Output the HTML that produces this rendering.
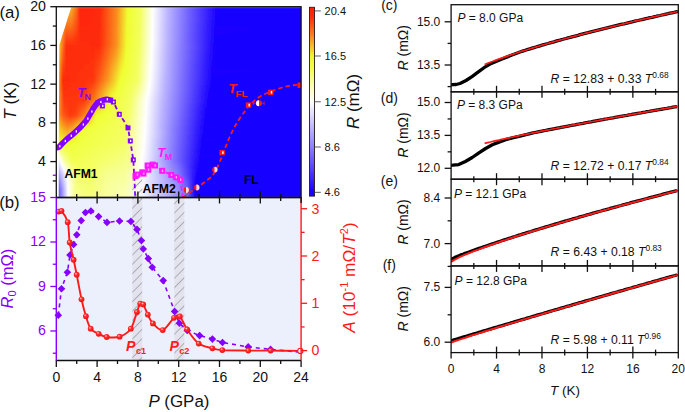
<!DOCTYPE html><html><head><meta charset="utf-8"><style>html,body{margin:0;padding:0;background:#fff;width:685px;height:412px;overflow:hidden}svg{display:block;font-family:"Liberation Sans",sans-serif}</style></head><body>
<svg width="685" height="412" viewBox="0 0 685 412">
<defs>
<linearGradient id="g0" gradientUnits="userSpaceOnUse" x1="56.3" x2="301.1" y1="0" y2="0"><stop offset="0.000" stop-color="#f6b525"/><stop offset="0.061" stop-color="#f7b124"/><stop offset="0.082" stop-color="#fb6d18"/><stop offset="0.094" stop-color="#fe320e"/><stop offset="0.098" stop-color="#ff240b"/><stop offset="0.176" stop-color="#fe290c"/><stop offset="0.180" stop-color="#fe2b0c"/><stop offset="0.249" stop-color="#fa8f1e"/><stop offset="0.290" stop-color="#f0fa31"/><stop offset="0.298" stop-color="#f0ff35"/><stop offset="0.339" stop-color="#f3ff59"/><stop offset="0.343" stop-color="#f3ff5e"/><stop offset="0.392" stop-color="#fefff6"/><stop offset="0.396" stop-color="#fefeff"/><stop offset="0.457" stop-color="#bab3ff"/><stop offset="0.539" stop-color="#7264ff"/><stop offset="0.657" stop-color="#1800ff"/><stop offset="1.000" stop-color="#1800ff"/></linearGradient><linearGradient id="g1" gradientUnits="userSpaceOnUse" x1="56.3" x2="301.1" y1="0" y2="0"><stop offset="0.000" stop-color="#f6b525"/><stop offset="0.012" stop-color="#f6b525"/><stop offset="0.041" stop-color="#f7aa23"/><stop offset="0.061" stop-color="#f7aa23"/><stop offset="0.082" stop-color="#fc6a18"/><stop offset="0.094" stop-color="#fe320e"/><stop offset="0.098" stop-color="#ff250b"/><stop offset="0.176" stop-color="#fe2a0c"/><stop offset="0.180" stop-color="#fe2c0c"/><stop offset="0.249" stop-color="#fa8f1f"/><stop offset="0.290" stop-color="#f0fb31"/><stop offset="0.298" stop-color="#f0ff35"/><stop offset="0.339" stop-color="#f3ff59"/><stop offset="0.343" stop-color="#f4ff5f"/><stop offset="0.392" stop-color="#fefff6"/><stop offset="0.396" stop-color="#fefeff"/><stop offset="0.457" stop-color="#bab3ff"/><stop offset="0.539" stop-color="#7264ff"/><stop offset="0.657" stop-color="#1800ff"/><stop offset="1.000" stop-color="#1800ff"/></linearGradient><linearGradient id="g2" gradientUnits="userSpaceOnUse" x1="56.3" x2="301.1" y1="0" y2="0"><stop offset="0.000" stop-color="#f6b625"/><stop offset="0.012" stop-color="#f6b625"/><stop offset="0.041" stop-color="#f8a322"/><stop offset="0.061" stop-color="#f8a322"/><stop offset="0.082" stop-color="#fc6717"/><stop offset="0.094" stop-color="#fe320e"/><stop offset="0.098" stop-color="#ff250b"/><stop offset="0.176" stop-color="#fe2a0c"/><stop offset="0.180" stop-color="#fe2c0d"/><stop offset="0.249" stop-color="#fa901f"/><stop offset="0.290" stop-color="#f0fb31"/><stop offset="0.294" stop-color="#f0ff32"/><stop offset="0.339" stop-color="#f3ff59"/><stop offset="0.343" stop-color="#f4ff60"/><stop offset="0.392" stop-color="#fefff7"/><stop offset="0.396" stop-color="#fdfdff"/><stop offset="0.457" stop-color="#bab3ff"/><stop offset="0.539" stop-color="#7263ff"/><stop offset="0.657" stop-color="#1800ff"/><stop offset="1.000" stop-color="#1800ff"/></linearGradient><linearGradient id="g3" gradientUnits="userSpaceOnUse" x1="56.3" x2="301.1" y1="0" y2="0"><stop offset="0.000" stop-color="#f6b625"/><stop offset="0.012" stop-color="#f6b625"/><stop offset="0.041" stop-color="#f99c21"/><stop offset="0.061" stop-color="#f99c21"/><stop offset="0.082" stop-color="#fc6317"/><stop offset="0.094" stop-color="#fe310e"/><stop offset="0.098" stop-color="#ff260b"/><stop offset="0.176" stop-color="#fe2a0c"/><stop offset="0.180" stop-color="#fe2c0d"/><stop offset="0.245" stop-color="#fa891d"/><stop offset="0.290" stop-color="#f0fb31"/><stop offset="0.294" stop-color="#f0ff32"/><stop offset="0.339" stop-color="#f3ff5a"/><stop offset="0.343" stop-color="#f4ff60"/><stop offset="0.392" stop-color="#fefff7"/><stop offset="0.396" stop-color="#fdfdff"/><stop offset="0.457" stop-color="#bab3ff"/><stop offset="0.539" stop-color="#7263ff"/><stop offset="0.657" stop-color="#1800ff"/><stop offset="1.000" stop-color="#1800ff"/></linearGradient><linearGradient id="g4" gradientUnits="userSpaceOnUse" x1="56.3" x2="301.1" y1="0" y2="0"><stop offset="0.000" stop-color="#f6b725"/><stop offset="0.012" stop-color="#f6b725"/><stop offset="0.041" stop-color="#f99520"/><stop offset="0.061" stop-color="#f99520"/><stop offset="0.082" stop-color="#fc6016"/><stop offset="0.094" stop-color="#fe310d"/><stop offset="0.098" stop-color="#ff260b"/><stop offset="0.176" stop-color="#fe2a0c"/><stop offset="0.245" stop-color="#fa891e"/><stop offset="0.290" stop-color="#f0fb31"/><stop offset="0.294" stop-color="#f0ff32"/><stop offset="0.339" stop-color="#f3ff5a"/><stop offset="0.343" stop-color="#f4ff61"/><stop offset="0.392" stop-color="#fffff8"/><stop offset="0.396" stop-color="#fdfdff"/><stop offset="0.457" stop-color="#bab2ff"/><stop offset="0.539" stop-color="#7263ff"/><stop offset="0.657" stop-color="#1800ff"/><stop offset="1.000" stop-color="#1800ff"/></linearGradient><linearGradient id="g5" gradientUnits="userSpaceOnUse" x1="56.3" x2="301.1" y1="0" y2="0"><stop offset="0.000" stop-color="#f6b826"/><stop offset="0.012" stop-color="#f6b826"/><stop offset="0.041" stop-color="#fa8e1e"/><stop offset="0.061" stop-color="#fa8e1e"/><stop offset="0.082" stop-color="#fc5c15"/><stop offset="0.094" stop-color="#fe310d"/><stop offset="0.098" stop-color="#ff260c"/><stop offset="0.176" stop-color="#fe2a0c"/><stop offset="0.245" stop-color="#fa8a1e"/><stop offset="0.290" stop-color="#f0fb31"/><stop offset="0.294" stop-color="#f0ff32"/><stop offset="0.339" stop-color="#f3ff5a"/><stop offset="0.343" stop-color="#f4ff62"/><stop offset="0.392" stop-color="#fffff9"/><stop offset="0.396" stop-color="#fdfcff"/><stop offset="0.457" stop-color="#b9b2ff"/><stop offset="0.539" stop-color="#7263ff"/><stop offset="0.657" stop-color="#1800ff"/><stop offset="1.000" stop-color="#1800ff"/></linearGradient><linearGradient id="g6" gradientUnits="userSpaceOnUse" x1="56.3" x2="301.1" y1="0" y2="0"><stop offset="0.000" stop-color="#f6b826"/><stop offset="0.012" stop-color="#f6b826"/><stop offset="0.041" stop-color="#fa871d"/><stop offset="0.061" stop-color="#fa871d"/><stop offset="0.082" stop-color="#fc5915"/><stop offset="0.098" stop-color="#ff270c"/><stop offset="0.176" stop-color="#fe2a0c"/><stop offset="0.245" stop-color="#fa8a1e"/><stop offset="0.290" stop-color="#f0fc31"/><stop offset="0.294" stop-color="#f0ff32"/><stop offset="0.339" stop-color="#f3ff5a"/><stop offset="0.343" stop-color="#f4ff62"/><stop offset="0.392" stop-color="#fffff9"/><stop offset="0.396" stop-color="#fcfcff"/><stop offset="0.457" stop-color="#b9b2ff"/><stop offset="0.539" stop-color="#7163ff"/><stop offset="0.657" stop-color="#1800ff"/><stop offset="1.000" stop-color="#1800ff"/></linearGradient><linearGradient id="g7" gradientUnits="userSpaceOnUse" x1="56.3" x2="301.1" y1="0" y2="0"><stop offset="0.000" stop-color="#f6b926"/><stop offset="0.012" stop-color="#f6b926"/><stop offset="0.041" stop-color="#fb801c"/><stop offset="0.061" stop-color="#fb801c"/><stop offset="0.082" stop-color="#fc5514"/><stop offset="0.098" stop-color="#ff270c"/><stop offset="0.176" stop-color="#fe2a0c"/><stop offset="0.245" stop-color="#fa8a1e"/><stop offset="0.290" stop-color="#f0fc31"/><stop offset="0.339" stop-color="#f3ff5b"/><stop offset="0.343" stop-color="#f4ff63"/><stop offset="0.392" stop-color="#fffffa"/><stop offset="0.396" stop-color="#fcfcff"/><stop offset="0.457" stop-color="#b9b2ff"/><stop offset="0.539" stop-color="#7162ff"/><stop offset="0.645" stop-color="#1e07ff"/><stop offset="0.657" stop-color="#1800ff"/><stop offset="1.000" stop-color="#1800ff"/></linearGradient><linearGradient id="g8" gradientUnits="userSpaceOnUse" x1="56.3" x2="301.1" y1="0" y2="0"><stop offset="0.000" stop-color="#f6b926"/><stop offset="0.012" stop-color="#f6b926"/><stop offset="0.041" stop-color="#fb791b"/><stop offset="0.061" stop-color="#fb791b"/><stop offset="0.082" stop-color="#fd5213"/><stop offset="0.098" stop-color="#ff280c"/><stop offset="0.171" stop-color="#fe290c"/><stop offset="0.180" stop-color="#fe2e0d"/><stop offset="0.245" stop-color="#fa8b1e"/><stop offset="0.265" stop-color="#f6bd26"/><stop offset="0.286" stop-color="#f1f530"/><stop offset="0.290" stop-color="#f0fc31"/><stop offset="0.335" stop-color="#f3ff56"/><stop offset="0.343" stop-color="#f4ff64"/><stop offset="0.392" stop-color="#fffffa"/><stop offset="0.396" stop-color="#fcfcff"/><stop offset="0.453" stop-color="#bdb6ff"/><stop offset="0.506" stop-color="#8d82ff"/><stop offset="0.547" stop-color="#6a5bff"/><stop offset="0.653" stop-color="#1902ff"/><stop offset="1.000" stop-color="#1800ff"/></linearGradient><linearGradient id="g9" gradientUnits="userSpaceOnUse" x1="56.3" x2="301.1" y1="0" y2="0"><stop offset="0.000" stop-color="#f6ba26"/><stop offset="0.012" stop-color="#f6ba26"/><stop offset="0.041" stop-color="#fb7219"/><stop offset="0.061" stop-color="#fb7219"/><stop offset="0.082" stop-color="#fd4f13"/><stop offset="0.098" stop-color="#ff280c"/><stop offset="0.171" stop-color="#fe290c"/><stop offset="0.180" stop-color="#fe2e0d"/><stop offset="0.245" stop-color="#fa8b1e"/><stop offset="0.286" stop-color="#f1f530"/><stop offset="0.290" stop-color="#f0fc32"/><stop offset="0.335" stop-color="#f3ff57"/><stop offset="0.343" stop-color="#f4ff64"/><stop offset="0.392" stop-color="#fffffb"/><stop offset="0.396" stop-color="#fcfbff"/><stop offset="0.453" stop-color="#bdb6ff"/><stop offset="0.506" stop-color="#8d81ff"/><stop offset="0.547" stop-color="#6a5aff"/><stop offset="0.653" stop-color="#1901ff"/><stop offset="1.000" stop-color="#1800ff"/></linearGradient><linearGradient id="g10" gradientUnits="userSpaceOnUse" x1="56.3" x2="301.1" y1="0" y2="0"><stop offset="0.000" stop-color="#f6bb26"/><stop offset="0.012" stop-color="#f6bb26"/><stop offset="0.041" stop-color="#fb6b18"/><stop offset="0.061" stop-color="#fb6b18"/><stop offset="0.082" stop-color="#fd4b12"/><stop offset="0.098" stop-color="#ff290c"/><stop offset="0.171" stop-color="#fe290c"/><stop offset="0.180" stop-color="#fe2e0d"/><stop offset="0.245" stop-color="#fa8b1e"/><stop offset="0.286" stop-color="#f1f630"/><stop offset="0.290" stop-color="#f0fc32"/><stop offset="0.335" stop-color="#f3ff57"/><stop offset="0.343" stop-color="#f4ff65"/><stop offset="0.392" stop-color="#fffffc"/><stop offset="0.396" stop-color="#fcfbff"/><stop offset="0.457" stop-color="#b8b1ff"/><stop offset="0.543" stop-color="#6d5eff"/><stop offset="0.649" stop-color="#1b03ff"/><stop offset="1.000" stop-color="#1800ff"/></linearGradient><linearGradient id="g11" gradientUnits="userSpaceOnUse" x1="56.3" x2="301.1" y1="0" y2="0"><stop offset="0.000" stop-color="#f6bb26"/><stop offset="0.012" stop-color="#f6bb26"/><stop offset="0.037" stop-color="#fb6e19"/><stop offset="0.041" stop-color="#fc6517"/><stop offset="0.061" stop-color="#fc6417"/><stop offset="0.082" stop-color="#fd4812"/><stop offset="0.098" stop-color="#fe290c"/><stop offset="0.171" stop-color="#fe290c"/><stop offset="0.180" stop-color="#fe2f0d"/><stop offset="0.245" stop-color="#fa8c1e"/><stop offset="0.286" stop-color="#f1f630"/><stop offset="0.290" stop-color="#f0fd32"/><stop offset="0.335" stop-color="#f3ff57"/><stop offset="0.343" stop-color="#f4ff66"/><stop offset="0.392" stop-color="#fffffc"/><stop offset="0.457" stop-color="#b8b1ff"/><stop offset="0.543" stop-color="#6d5eff"/><stop offset="0.649" stop-color="#1a03ff"/><stop offset="1.000" stop-color="#1800ff"/></linearGradient><linearGradient id="g12" gradientUnits="userSpaceOnUse" x1="56.3" x2="301.1" y1="0" y2="0"><stop offset="0.000" stop-color="#f6bc26"/><stop offset="0.012" stop-color="#f6bc26"/><stop offset="0.016" stop-color="#f7b124"/><stop offset="0.037" stop-color="#fc6817"/><stop offset="0.041" stop-color="#fc5e16"/><stop offset="0.061" stop-color="#fc5d15"/><stop offset="0.082" stop-color="#fd4411"/><stop offset="0.098" stop-color="#fe2a0c"/><stop offset="0.171" stop-color="#fe290c"/><stop offset="0.180" stop-color="#fe2f0d"/><stop offset="0.245" stop-color="#fa8c1e"/><stop offset="0.286" stop-color="#f1f731"/><stop offset="0.290" stop-color="#f0fd32"/><stop offset="0.335" stop-color="#f3ff57"/><stop offset="0.343" stop-color="#f4ff66"/><stop offset="0.392" stop-color="#fffffd"/><stop offset="0.457" stop-color="#b8b1ff"/><stop offset="0.543" stop-color="#6d5dff"/><stop offset="0.649" stop-color="#1a02ff"/><stop offset="1.000" stop-color="#1800ff"/></linearGradient><linearGradient id="g13" gradientUnits="userSpaceOnUse" x1="56.3" x2="301.1" y1="0" y2="0"><stop offset="0.000" stop-color="#f6bc26"/><stop offset="0.012" stop-color="#f6bc26"/><stop offset="0.016" stop-color="#f7b124"/><stop offset="0.037" stop-color="#fc6116"/><stop offset="0.041" stop-color="#fc5714"/><stop offset="0.061" stop-color="#fc5614"/><stop offset="0.082" stop-color="#fd4110"/><stop offset="0.098" stop-color="#fe2a0c"/><stop offset="0.171" stop-color="#fe2a0c"/><stop offset="0.180" stop-color="#fe2f0d"/><stop offset="0.245" stop-color="#fa8d1e"/><stop offset="0.282" stop-color="#f2ed2f"/><stop offset="0.290" stop-color="#f0fd32"/><stop offset="0.335" stop-color="#f3ff57"/><stop offset="0.343" stop-color="#f4ff67"/><stop offset="0.392" stop-color="#fffffd"/><stop offset="0.457" stop-color="#b8b0ff"/><stop offset="0.543" stop-color="#6d5dff"/><stop offset="0.649" stop-color="#1a02ff"/><stop offset="1.000" stop-color="#1800ff"/></linearGradient><linearGradient id="g14" gradientUnits="userSpaceOnUse" x1="56.3" x2="301.1" y1="0" y2="0"><stop offset="0.000" stop-color="#f6bd27"/><stop offset="0.012" stop-color="#f6bd27"/><stop offset="0.016" stop-color="#f7b024"/><stop offset="0.037" stop-color="#fc5b15"/><stop offset="0.041" stop-color="#fd5013"/><stop offset="0.061" stop-color="#fd4f13"/><stop offset="0.098" stop-color="#fe2b0c"/><stop offset="0.171" stop-color="#fe2a0c"/><stop offset="0.180" stop-color="#fe2f0d"/><stop offset="0.245" stop-color="#fa8d1e"/><stop offset="0.282" stop-color="#f1ee2f"/><stop offset="0.290" stop-color="#f0fd32"/><stop offset="0.335" stop-color="#f3ff58"/><stop offset="0.343" stop-color="#f4ff68"/><stop offset="0.392" stop-color="#fffffe"/><stop offset="0.457" stop-color="#b8b0ff"/><stop offset="0.543" stop-color="#6c5dff"/><stop offset="0.649" stop-color="#1902ff"/><stop offset="1.000" stop-color="#1800ff"/></linearGradient><linearGradient id="g15" gradientUnits="userSpaceOnUse" x1="56.3" x2="301.1" y1="0" y2="0"><stop offset="0.000" stop-color="#f6be27"/><stop offset="0.012" stop-color="#f6be27"/><stop offset="0.016" stop-color="#f7b024"/><stop offset="0.037" stop-color="#fc5514"/><stop offset="0.041" stop-color="#fd4912"/><stop offset="0.061" stop-color="#fd4812"/><stop offset="0.098" stop-color="#fe2b0c"/><stop offset="0.171" stop-color="#fe2a0c"/><stop offset="0.180" stop-color="#fe300d"/><stop offset="0.245" stop-color="#fa8d1e"/><stop offset="0.286" stop-color="#f1f831"/><stop offset="0.294" stop-color="#f0ff34"/><stop offset="0.335" stop-color="#f3ff58"/><stop offset="0.339" stop-color="#f3ff5d"/><stop offset="0.343" stop-color="#f4ff68"/><stop offset="0.392" stop-color="#ffffff"/><stop offset="0.457" stop-color="#b7b0ff"/><stop offset="0.543" stop-color="#6c5dff"/><stop offset="0.649" stop-color="#1901ff"/><stop offset="1.000" stop-color="#1800ff"/></linearGradient><linearGradient id="g16" gradientUnits="userSpaceOnUse" x1="56.3" x2="301.1" y1="0" y2="0"><stop offset="0.000" stop-color="#f6be27"/><stop offset="0.012" stop-color="#f6be27"/><stop offset="0.016" stop-color="#f7b024"/><stop offset="0.037" stop-color="#fd4f13"/><stop offset="0.041" stop-color="#fd4211"/><stop offset="0.061" stop-color="#fd4110"/><stop offset="0.098" stop-color="#fe2c0c"/><stop offset="0.171" stop-color="#fe2a0c"/><stop offset="0.180" stop-color="#fe300d"/><stop offset="0.245" stop-color="#fa8e1e"/><stop offset="0.286" stop-color="#f1f931"/><stop offset="0.294" stop-color="#f0ff34"/><stop offset="0.335" stop-color="#f3ff58"/><stop offset="0.339" stop-color="#f3ff5d"/><stop offset="0.343" stop-color="#f4ff69"/><stop offset="0.392" stop-color="#ffffff"/><stop offset="0.457" stop-color="#b7b0ff"/><stop offset="0.543" stop-color="#6c5dff"/><stop offset="0.649" stop-color="#1901ff"/><stop offset="1.000" stop-color="#1800ff"/></linearGradient><linearGradient id="g17" gradientUnits="userSpaceOnUse" x1="56.3" x2="301.1" y1="0" y2="0"><stop offset="0.000" stop-color="#f6bf27"/><stop offset="0.012" stop-color="#f6bf27"/><stop offset="0.016" stop-color="#f7b024"/><stop offset="0.037" stop-color="#fd4912"/><stop offset="0.041" stop-color="#fe3b0f"/><stop offset="0.061" stop-color="#fe3a0f"/><stop offset="0.098" stop-color="#fe2c0d"/><stop offset="0.171" stop-color="#fe2a0c"/><stop offset="0.180" stop-color="#fe300d"/><stop offset="0.245" stop-color="#fa8e1e"/><stop offset="0.286" stop-color="#f0f931"/><stop offset="0.294" stop-color="#f0ff35"/><stop offset="0.335" stop-color="#f3ff58"/><stop offset="0.339" stop-color="#f3ff5e"/><stop offset="0.392" stop-color="#ffffff"/><stop offset="0.457" stop-color="#b7b0ff"/><stop offset="0.543" stop-color="#6c5cff"/><stop offset="0.649" stop-color="#1801ff"/><stop offset="1.000" stop-color="#1800ff"/></linearGradient><linearGradient id="g18" gradientUnits="userSpaceOnUse" x1="56.3" x2="301.1" y1="0" y2="0"><stop offset="0.000" stop-color="#f6bf27"/><stop offset="0.012" stop-color="#f6bf27"/><stop offset="0.016" stop-color="#f7af24"/><stop offset="0.037" stop-color="#fd4311"/><stop offset="0.041" stop-color="#fe340e"/><stop offset="0.171" stop-color="#fe2a0c"/><stop offset="0.176" stop-color="#fe2b0c"/><stop offset="0.245" stop-color="#fa8e1e"/><stop offset="0.286" stop-color="#f0fa31"/><stop offset="0.294" stop-color="#f0ff35"/><stop offset="0.335" stop-color="#f3ff58"/><stop offset="0.339" stop-color="#f3ff5e"/><stop offset="0.388" stop-color="#fefff5"/><stop offset="0.392" stop-color="#fefeff"/><stop offset="0.453" stop-color="#bbb3ff"/><stop offset="0.506" stop-color="#8c7fff"/><stop offset="0.649" stop-color="#1800ff"/><stop offset="1.000" stop-color="#1800ff"/></linearGradient><linearGradient id="g19" gradientUnits="userSpaceOnUse" x1="56.3" x2="301.1" y1="0" y2="0"><stop offset="0.000" stop-color="#f6bf27"/><stop offset="0.012" stop-color="#f6bf27"/><stop offset="0.016" stop-color="#f7ae24"/><stop offset="0.037" stop-color="#fe3e10"/><stop offset="0.041" stop-color="#fe2f0d"/><stop offset="0.171" stop-color="#fe2b0c"/><stop offset="0.176" stop-color="#fe2c0d"/><stop offset="0.245" stop-color="#fa901f"/><stop offset="0.286" stop-color="#f0fb31"/><stop offset="0.290" stop-color="#f0ff32"/><stop offset="0.335" stop-color="#f3ff59"/><stop offset="0.339" stop-color="#f3ff5f"/><stop offset="0.388" stop-color="#fefff6"/><stop offset="0.392" stop-color="#fefeff"/><stop offset="0.453" stop-color="#bab3ff"/><stop offset="0.502" stop-color="#8f83ff"/><stop offset="0.649" stop-color="#1800ff"/><stop offset="1.000" stop-color="#1800ff"/></linearGradient><linearGradient id="g20" gradientUnits="userSpaceOnUse" x1="56.3" x2="301.1" y1="0" y2="0"><stop offset="0.000" stop-color="#f6bd26"/><stop offset="0.012" stop-color="#f6bc26"/><stop offset="0.016" stop-color="#f7ab23"/><stop offset="0.029" stop-color="#fc6517"/><stop offset="0.037" stop-color="#fe3d10"/><stop offset="0.041" stop-color="#fe2f0d"/><stop offset="0.171" stop-color="#fe2d0d"/><stop offset="0.176" stop-color="#fe2f0d"/><stop offset="0.245" stop-color="#f99520"/><stop offset="0.286" stop-color="#f0fc31"/><stop offset="0.335" stop-color="#f3ff5a"/><stop offset="0.339" stop-color="#f4ff60"/><stop offset="0.388" stop-color="#fefff7"/><stop offset="0.392" stop-color="#fdfdff"/><stop offset="0.453" stop-color="#bab3ff"/><stop offset="0.502" stop-color="#8e83ff"/><stop offset="0.649" stop-color="#1800ff"/><stop offset="1.000" stop-color="#1800ff"/></linearGradient><linearGradient id="g21" gradientUnits="userSpaceOnUse" x1="56.3" x2="301.1" y1="0" y2="0"><stop offset="0.000" stop-color="#f6ba26"/><stop offset="0.012" stop-color="#f6b926"/><stop offset="0.016" stop-color="#f8a723"/><stop offset="0.029" stop-color="#fc6116"/><stop offset="0.037" stop-color="#fe3c0f"/><stop offset="0.041" stop-color="#fe2f0d"/><stop offset="0.151" stop-color="#fe2c0d"/><stop offset="0.176" stop-color="#fe320e"/><stop offset="0.241" stop-color="#f9921f"/><stop offset="0.286" stop-color="#f0fd32"/><stop offset="0.331" stop-color="#f3ff57"/><stop offset="0.339" stop-color="#f4ff62"/><stop offset="0.388" stop-color="#fffff8"/><stop offset="0.392" stop-color="#fdfdff"/><stop offset="0.453" stop-color="#b9b2ff"/><stop offset="0.502" stop-color="#8e82ff"/><stop offset="0.649" stop-color="#1800ff"/><stop offset="1.000" stop-color="#1800ff"/></linearGradient><linearGradient id="g22" gradientUnits="userSpaceOnUse" x1="56.3" x2="301.1" y1="0" y2="0"><stop offset="0.000" stop-color="#f6b826"/><stop offset="0.012" stop-color="#f6b625"/><stop offset="0.016" stop-color="#f8a422"/><stop offset="0.029" stop-color="#fc5e16"/><stop offset="0.037" stop-color="#fe3b0f"/><stop offset="0.041" stop-color="#fe2e0d"/><stop offset="0.151" stop-color="#fe2d0d"/><stop offset="0.176" stop-color="#fe350e"/><stop offset="0.241" stop-color="#f99720"/><stop offset="0.286" stop-color="#f0ff32"/><stop offset="0.331" stop-color="#f3ff58"/><stop offset="0.339" stop-color="#f4ff64"/><stop offset="0.388" stop-color="#fffff9"/><stop offset="0.392" stop-color="#fcfcff"/><stop offset="0.453" stop-color="#b9b2ff"/><stop offset="0.502" stop-color="#8e82ff"/><stop offset="0.543" stop-color="#6a5bff"/><stop offset="0.649" stop-color="#1800ff"/><stop offset="1.000" stop-color="#1800ff"/></linearGradient><linearGradient id="g23" gradientUnits="userSpaceOnUse" x1="56.3" x2="301.1" y1="0" y2="0"><stop offset="0.000" stop-color="#f6b625"/><stop offset="0.012" stop-color="#f7b425"/><stop offset="0.016" stop-color="#f8a022"/><stop offset="0.029" stop-color="#fc5a15"/><stop offset="0.037" stop-color="#fe3a0f"/><stop offset="0.041" stop-color="#fe2e0d"/><stop offset="0.151" stop-color="#fe2e0d"/><stop offset="0.176" stop-color="#fe380f"/><stop offset="0.212" stop-color="#fb6e19"/><stop offset="0.245" stop-color="#f8a322"/><stop offset="0.286" stop-color="#f0ff33"/><stop offset="0.331" stop-color="#f3ff58"/><stop offset="0.339" stop-color="#f4ff66"/><stop offset="0.388" stop-color="#fffffa"/><stop offset="0.392" stop-color="#fcfbff"/><stop offset="0.453" stop-color="#b9b1ff"/><stop offset="0.502" stop-color="#8d81ff"/><stop offset="0.633" stop-color="#220bff"/><stop offset="0.649" stop-color="#1800ff"/><stop offset="1.000" stop-color="#1800ff"/></linearGradient><linearGradient id="g24" gradientUnits="userSpaceOnUse" x1="56.3" x2="301.1" y1="0" y2="0"><stop offset="0.000" stop-color="#f7b325"/><stop offset="0.012" stop-color="#f7b124"/><stop offset="0.029" stop-color="#fc5614"/><stop offset="0.041" stop-color="#fe2e0d"/><stop offset="0.151" stop-color="#fe2e0d"/><stop offset="0.176" stop-color="#fe3b0f"/><stop offset="0.212" stop-color="#fb7119"/><stop offset="0.245" stop-color="#f8a723"/><stop offset="0.261" stop-color="#f4ce29"/><stop offset="0.282" stop-color="#f0fa31"/><stop offset="0.286" stop-color="#f0ff34"/><stop offset="0.331" stop-color="#f3ff59"/><stop offset="0.339" stop-color="#f4ff67"/><stop offset="0.388" stop-color="#fffffb"/><stop offset="0.392" stop-color="#fbfbff"/><stop offset="0.453" stop-color="#b8b1ff"/><stop offset="0.502" stop-color="#8d81ff"/><stop offset="0.633" stop-color="#210aff"/><stop offset="0.649" stop-color="#1800ff"/><stop offset="1.000" stop-color="#1800ff"/></linearGradient><linearGradient id="g25" gradientUnits="userSpaceOnUse" x1="56.3" x2="301.1" y1="0" y2="0"><stop offset="0.000" stop-color="#f7b124"/><stop offset="0.012" stop-color="#f7ae24"/><stop offset="0.029" stop-color="#fd5314"/><stop offset="0.041" stop-color="#fe2e0d"/><stop offset="0.151" stop-color="#fe2f0d"/><stop offset="0.176" stop-color="#fe3e10"/><stop offset="0.212" stop-color="#fb741a"/><stop offset="0.245" stop-color="#f7ac24"/><stop offset="0.282" stop-color="#f0fc31"/><stop offset="0.286" stop-color="#f0ff35"/><stop offset="0.331" stop-color="#f3ff5a"/><stop offset="0.339" stop-color="#f4ff69"/><stop offset="0.388" stop-color="#fffffc"/><stop offset="0.449" stop-color="#bcb5ff"/><stop offset="0.502" stop-color="#8c80ff"/><stop offset="0.633" stop-color="#210aff"/><stop offset="0.649" stop-color="#1800ff"/><stop offset="1.000" stop-color="#1800ff"/></linearGradient><linearGradient id="g26" gradientUnits="userSpaceOnUse" x1="56.3" x2="301.1" y1="0" y2="0"><stop offset="0.000" stop-color="#f7af24"/><stop offset="0.012" stop-color="#f7ab23"/><stop offset="0.029" stop-color="#fd4f13"/><stop offset="0.041" stop-color="#fe2d0d"/><stop offset="0.151" stop-color="#fe300d"/><stop offset="0.176" stop-color="#fd4110"/><stop offset="0.212" stop-color="#fb781a"/><stop offset="0.245" stop-color="#f7b024"/><stop offset="0.261" stop-color="#f4d62b"/><stop offset="0.282" stop-color="#f0fd32"/><stop offset="0.327" stop-color="#f3ff57"/><stop offset="0.339" stop-color="#f4ff6b"/><stop offset="0.388" stop-color="#fffffd"/><stop offset="0.449" stop-color="#bbb4ff"/><stop offset="0.502" stop-color="#8c80ff"/><stop offset="0.633" stop-color="#2009ff"/><stop offset="0.649" stop-color="#1800ff"/><stop offset="1.000" stop-color="#1800ff"/></linearGradient><linearGradient id="g27" gradientUnits="userSpaceOnUse" x1="56.3" x2="301.1" y1="0" y2="0"><stop offset="0.000" stop-color="#f7ad24"/><stop offset="0.012" stop-color="#f8a923"/><stop offset="0.029" stop-color="#fd4b12"/><stop offset="0.041" stop-color="#fe2d0d"/><stop offset="0.147" stop-color="#fe300d"/><stop offset="0.176" stop-color="#fd4411"/><stop offset="0.208" stop-color="#fb751a"/><stop offset="0.241" stop-color="#f7ad24"/><stop offset="0.261" stop-color="#f3da2c"/><stop offset="0.282" stop-color="#f0ff32"/><stop offset="0.327" stop-color="#f3ff58"/><stop offset="0.339" stop-color="#f5ff6c"/><stop offset="0.388" stop-color="#fffffe"/><stop offset="0.453" stop-color="#b7afff"/><stop offset="0.543" stop-color="#6859ff"/><stop offset="0.633" stop-color="#2009ff"/><stop offset="0.645" stop-color="#1902ff"/><stop offset="1.000" stop-color="#1800ff"/></linearGradient><linearGradient id="g28" gradientUnits="userSpaceOnUse" x1="56.3" x2="301.1" y1="0" y2="0"><stop offset="0.000" stop-color="#f7aa23"/><stop offset="0.012" stop-color="#f8a623"/><stop offset="0.024" stop-color="#fc5c15"/><stop offset="0.029" stop-color="#fd4812"/><stop offset="0.041" stop-color="#fe2d0d"/><stop offset="0.147" stop-color="#fe300d"/><stop offset="0.176" stop-color="#fd4611"/><stop offset="0.208" stop-color="#fb781a"/><stop offset="0.245" stop-color="#f6b926"/><stop offset="0.261" stop-color="#f3de2c"/><stop offset="0.282" stop-color="#f0ff34"/><stop offset="0.327" stop-color="#f3ff58"/><stop offset="0.339" stop-color="#f5ff6e"/><stop offset="0.388" stop-color="#ffffff"/><stop offset="0.453" stop-color="#b7afff"/><stop offset="0.539" stop-color="#6b5cff"/><stop offset="0.637" stop-color="#1c05ff"/><stop offset="0.649" stop-color="#1800ff"/><stop offset="1.000" stop-color="#1800ff"/></linearGradient><linearGradient id="g29" gradientUnits="userSpaceOnUse" x1="56.3" x2="301.1" y1="0" y2="0"><stop offset="0.000" stop-color="#f8a823"/><stop offset="0.008" stop-color="#f8a823"/><stop offset="0.012" stop-color="#f8a322"/><stop offset="0.024" stop-color="#fc5815"/><stop offset="0.029" stop-color="#fd4411"/><stop offset="0.041" stop-color="#fe2d0d"/><stop offset="0.147" stop-color="#fe310d"/><stop offset="0.176" stop-color="#fd4912"/><stop offset="0.208" stop-color="#fb7b1b"/><stop offset="0.245" stop-color="#f6be27"/><stop offset="0.261" stop-color="#f2e22d"/><stop offset="0.278" stop-color="#f0fc31"/><stop offset="0.327" stop-color="#f3ff59"/><stop offset="0.331" stop-color="#f3ff5d"/><stop offset="0.339" stop-color="#f5ff70"/><stop offset="0.384" stop-color="#fefff7"/><stop offset="0.388" stop-color="#fefeff"/><stop offset="0.453" stop-color="#b6afff"/><stop offset="0.539" stop-color="#6b5bff"/><stop offset="0.637" stop-color="#1c04ff"/><stop offset="0.649" stop-color="#1800ff"/><stop offset="1.000" stop-color="#1800ff"/></linearGradient><linearGradient id="g30" gradientUnits="userSpaceOnUse" x1="56.3" x2="301.1" y1="0" y2="0"><stop offset="0.000" stop-color="#f8a622"/><stop offset="0.008" stop-color="#f8a622"/><stop offset="0.012" stop-color="#f8a022"/><stop offset="0.024" stop-color="#fd5414"/><stop offset="0.029" stop-color="#fd4010"/><stop offset="0.041" stop-color="#fe2c0d"/><stop offset="0.147" stop-color="#fe310e"/><stop offset="0.176" stop-color="#fd4c12"/><stop offset="0.208" stop-color="#fb7f1c"/><stop offset="0.241" stop-color="#f6bb26"/><stop offset="0.261" stop-color="#f2e72e"/><stop offset="0.278" stop-color="#f0fe32"/><stop offset="0.286" stop-color="#f1ff3c"/><stop offset="0.327" stop-color="#f3ff5a"/><stop offset="0.331" stop-color="#f3ff5e"/><stop offset="0.339" stop-color="#f5ff71"/><stop offset="0.384" stop-color="#fffff8"/><stop offset="0.388" stop-color="#fdfdff"/><stop offset="0.453" stop-color="#b6aeff"/><stop offset="0.535" stop-color="#6e5fff"/><stop offset="0.637" stop-color="#1b04ff"/><stop offset="0.649" stop-color="#1800ff"/><stop offset="1.000" stop-color="#1800ff"/></linearGradient><linearGradient id="g31" gradientUnits="userSpaceOnUse" x1="56.3" x2="301.1" y1="0" y2="0"><stop offset="0.000" stop-color="#f8a322"/><stop offset="0.008" stop-color="#f8a322"/><stop offset="0.012" stop-color="#f89e21"/><stop offset="0.024" stop-color="#fd5113"/><stop offset="0.029" stop-color="#fe3d10"/><stop offset="0.041" stop-color="#fe2c0d"/><stop offset="0.147" stop-color="#fe320e"/><stop offset="0.176" stop-color="#fd4f13"/><stop offset="0.208" stop-color="#fa821c"/><stop offset="0.241" stop-color="#f6bf27"/><stop offset="0.261" stop-color="#f2eb2e"/><stop offset="0.273" stop-color="#f0fb31"/><stop offset="0.278" stop-color="#f0ff33"/><stop offset="0.327" stop-color="#f3ff5a"/><stop offset="0.331" stop-color="#f3ff5f"/><stop offset="0.339" stop-color="#f5ff73"/><stop offset="0.384" stop-color="#fffffa"/><stop offset="0.388" stop-color="#fdfdff"/><stop offset="0.453" stop-color="#b5aeff"/><stop offset="0.535" stop-color="#6e5eff"/><stop offset="0.637" stop-color="#1b03ff"/><stop offset="1.000" stop-color="#1800ff"/></linearGradient><linearGradient id="g32" gradientUnits="userSpaceOnUse" x1="56.3" x2="301.1" y1="0" y2="0"><stop offset="0.000" stop-color="#f8a122"/><stop offset="0.008" stop-color="#f8a122"/><stop offset="0.012" stop-color="#f99b21"/><stop offset="0.024" stop-color="#fd4d13"/><stop offset="0.029" stop-color="#fe390f"/><stop offset="0.041" stop-color="#fe2c0d"/><stop offset="0.147" stop-color="#fe320e"/><stop offset="0.176" stop-color="#fd5213"/><stop offset="0.208" stop-color="#fa851d"/><stop offset="0.261" stop-color="#f1ef2f"/><stop offset="0.273" stop-color="#f0fe32"/><stop offset="0.327" stop-color="#f3ff5b"/><stop offset="0.331" stop-color="#f4ff60"/><stop offset="0.339" stop-color="#f5ff75"/><stop offset="0.384" stop-color="#fffffb"/><stop offset="0.388" stop-color="#fcfcff"/><stop offset="0.453" stop-color="#b5adff"/><stop offset="0.535" stop-color="#6d5eff"/><stop offset="0.637" stop-color="#1a02ff"/><stop offset="1.000" stop-color="#1800ff"/></linearGradient><linearGradient id="g33" gradientUnits="userSpaceOnUse" x1="56.3" x2="301.1" y1="0" y2="0"><stop offset="0.000" stop-color="#f89f21"/><stop offset="0.008" stop-color="#f89f21"/><stop offset="0.012" stop-color="#f99820"/><stop offset="0.024" stop-color="#fd4912"/><stop offset="0.029" stop-color="#fe350e"/><stop offset="0.037" stop-color="#fe2e0d"/><stop offset="0.147" stop-color="#fe330e"/><stop offset="0.151" stop-color="#fe350e"/><stop offset="0.176" stop-color="#fc5514"/><stop offset="0.212" stop-color="#fa8f1f"/><stop offset="0.261" stop-color="#f1f330"/><stop offset="0.273" stop-color="#f0ff33"/><stop offset="0.327" stop-color="#f3ff5c"/><stop offset="0.331" stop-color="#f4ff61"/><stop offset="0.339" stop-color="#f5ff76"/><stop offset="0.384" stop-color="#fffffc"/><stop offset="0.453" stop-color="#b4adff"/><stop offset="0.535" stop-color="#6d5dff"/><stop offset="0.637" stop-color="#1a02ff"/><stop offset="1.000" stop-color="#1800ff"/></linearGradient><linearGradient id="g34" gradientUnits="userSpaceOnUse" x1="56.3" x2="301.1" y1="0" y2="0"><stop offset="0.000" stop-color="#f99c21"/><stop offset="0.008" stop-color="#f99c21"/><stop offset="0.012" stop-color="#f99520"/><stop offset="0.024" stop-color="#fd4511"/><stop offset="0.029" stop-color="#fe320e"/><stop offset="0.041" stop-color="#fe2b0c"/><stop offset="0.147" stop-color="#fe340e"/><stop offset="0.151" stop-color="#fe350e"/><stop offset="0.176" stop-color="#fc5815"/><stop offset="0.212" stop-color="#f9931f"/><stop offset="0.261" stop-color="#f1f731"/><stop offset="0.269" stop-color="#f0ff32"/><stop offset="0.327" stop-color="#f3ff5d"/><stop offset="0.331" stop-color="#f4ff61"/><stop offset="0.339" stop-color="#f5ff78"/><stop offset="0.384" stop-color="#fffffe"/><stop offset="0.449" stop-color="#b8b0ff"/><stop offset="0.535" stop-color="#6c5dff"/><stop offset="0.637" stop-color="#1901ff"/><stop offset="1.000" stop-color="#1800ff"/></linearGradient><linearGradient id="g35" gradientUnits="userSpaceOnUse" x1="56.3" x2="301.1" y1="0" y2="0"><stop offset="0.000" stop-color="#f99a20"/><stop offset="0.008" stop-color="#f99a20"/><stop offset="0.012" stop-color="#f9931f"/><stop offset="0.024" stop-color="#fd4110"/><stop offset="0.029" stop-color="#fe2e0d"/><stop offset="0.041" stop-color="#fe2b0c"/><stop offset="0.147" stop-color="#fe340e"/><stop offset="0.151" stop-color="#fe360e"/><stop offset="0.212" stop-color="#f99620"/><stop offset="0.261" stop-color="#f0fb31"/><stop offset="0.269" stop-color="#f0ff35"/><stop offset="0.327" stop-color="#f3ff5d"/><stop offset="0.331" stop-color="#f4ff62"/><stop offset="0.384" stop-color="#ffffff"/><stop offset="0.445" stop-color="#bbb4ff"/><stop offset="0.535" stop-color="#6c5dff"/><stop offset="0.637" stop-color="#1901ff"/><stop offset="1.000" stop-color="#1800ff"/></linearGradient><linearGradient id="g36" gradientUnits="userSpaceOnUse" x1="56.3" x2="301.1" y1="0" y2="0"><stop offset="0.000" stop-color="#f99820"/><stop offset="0.008" stop-color="#f99820"/><stop offset="0.012" stop-color="#fa901f"/><stop offset="0.024" stop-color="#fe3e10"/><stop offset="0.029" stop-color="#fe2a0c"/><stop offset="0.147" stop-color="#fe350e"/><stop offset="0.151" stop-color="#fe370f"/><stop offset="0.212" stop-color="#f99920"/><stop offset="0.261" stop-color="#f0ff32"/><stop offset="0.331" stop-color="#f4ff63"/><stop offset="0.380" stop-color="#fefff5"/><stop offset="0.384" stop-color="#fefeff"/><stop offset="0.445" stop-color="#bab3ff"/><stop offset="0.535" stop-color="#6c5cff"/><stop offset="0.637" stop-color="#1800ff"/><stop offset="1.000" stop-color="#1800ff"/></linearGradient><linearGradient id="g37" gradientUnits="userSpaceOnUse" x1="56.3" x2="301.1" y1="0" y2="0"><stop offset="0.000" stop-color="#f99720"/><stop offset="0.008" stop-color="#f99720"/><stop offset="0.012" stop-color="#fa901f"/><stop offset="0.024" stop-color="#fd3f10"/><stop offset="0.029" stop-color="#fe2c0d"/><stop offset="0.110" stop-color="#fe320e"/><stop offset="0.147" stop-color="#fe3a0f"/><stop offset="0.151" stop-color="#fe3c0f"/><stop offset="0.208" stop-color="#f99a20"/><stop offset="0.257" stop-color="#f0fb31"/><stop offset="0.261" stop-color="#f0ff35"/><stop offset="0.302" stop-color="#f2ff50"/><stop offset="0.331" stop-color="#f4ff69"/><stop offset="0.380" stop-color="#fffff8"/><stop offset="0.384" stop-color="#fdfdff"/><stop offset="0.445" stop-color="#bab3ff"/><stop offset="0.535" stop-color="#6b5bff"/><stop offset="0.637" stop-color="#1800ff"/><stop offset="1.000" stop-color="#1800ff"/></linearGradient><linearGradient id="g38" gradientUnits="userSpaceOnUse" x1="56.3" x2="301.1" y1="0" y2="0"><stop offset="0.000" stop-color="#f99720"/><stop offset="0.008" stop-color="#f99720"/><stop offset="0.012" stop-color="#fa901f"/><stop offset="0.024" stop-color="#fd4210"/><stop offset="0.029" stop-color="#fe2e0d"/><stop offset="0.114" stop-color="#fe330e"/><stop offset="0.151" stop-color="#fd4211"/><stop offset="0.208" stop-color="#f8a222"/><stop offset="0.257" stop-color="#f0fe32"/><stop offset="0.302" stop-color="#f2ff52"/><stop offset="0.331" stop-color="#f5ff6f"/><stop offset="0.380" stop-color="#fffffa"/><stop offset="0.384" stop-color="#fcfbff"/><stop offset="0.445" stop-color="#b9b2ff"/><stop offset="0.535" stop-color="#6a5bff"/><stop offset="0.637" stop-color="#1800ff"/><stop offset="1.000" stop-color="#1800ff"/></linearGradient><linearGradient id="g39" gradientUnits="userSpaceOnUse" x1="56.3" x2="301.1" y1="0" y2="0"><stop offset="0.000" stop-color="#f99720"/><stop offset="0.008" stop-color="#f99720"/><stop offset="0.012" stop-color="#fa901f"/><stop offset="0.024" stop-color="#fd4411"/><stop offset="0.029" stop-color="#fe310d"/><stop offset="0.033" stop-color="#fe2d0d"/><stop offset="0.114" stop-color="#fe330e"/><stop offset="0.151" stop-color="#fd4812"/><stop offset="0.220" stop-color="#f5c328"/><stop offset="0.257" stop-color="#f0ff34"/><stop offset="0.302" stop-color="#f3ff54"/><stop offset="0.331" stop-color="#f5ff76"/><stop offset="0.380" stop-color="#fffffd"/><stop offset="0.445" stop-color="#b8b1ff"/><stop offset="0.535" stop-color="#695aff"/><stop offset="0.620" stop-color="#220bff"/><stop offset="0.637" stop-color="#1800ff"/><stop offset="1.000" stop-color="#1800ff"/></linearGradient><linearGradient id="g40" gradientUnits="userSpaceOnUse" x1="56.3" x2="301.1" y1="0" y2="0"><stop offset="0.000" stop-color="#f99720"/><stop offset="0.008" stop-color="#f99720"/><stop offset="0.012" stop-color="#fa901f"/><stop offset="0.024" stop-color="#fd4711"/><stop offset="0.029" stop-color="#fe330e"/><stop offset="0.033" stop-color="#fe2e0d"/><stop offset="0.114" stop-color="#fe340e"/><stop offset="0.151" stop-color="#fd4e13"/><stop offset="0.220" stop-color="#f4cc29"/><stop offset="0.253" stop-color="#f0fe32"/><stop offset="0.261" stop-color="#f1ff3c"/><stop offset="0.302" stop-color="#f3ff56"/><stop offset="0.327" stop-color="#f5ff76"/><stop offset="0.331" stop-color="#f6ff7c"/><stop offset="0.380" stop-color="#ffffff"/><stop offset="0.445" stop-color="#b8b0ff"/><stop offset="0.620" stop-color="#210aff"/><stop offset="0.637" stop-color="#1800ff"/><stop offset="1.000" stop-color="#1800ff"/></linearGradient><linearGradient id="g41" gradientUnits="userSpaceOnUse" x1="56.3" x2="301.1" y1="0" y2="0"><stop offset="0.000" stop-color="#f99720"/><stop offset="0.008" stop-color="#f99720"/><stop offset="0.012" stop-color="#fa901f"/><stop offset="0.024" stop-color="#fd4912"/><stop offset="0.029" stop-color="#fe360e"/><stop offset="0.033" stop-color="#fe2f0d"/><stop offset="0.114" stop-color="#fe340e"/><stop offset="0.151" stop-color="#fd5414"/><stop offset="0.220" stop-color="#f4d42b"/><stop offset="0.249" stop-color="#f0fc31"/><stop offset="0.261" stop-color="#f1ff3e"/><stop offset="0.302" stop-color="#f3ff58"/><stop offset="0.327" stop-color="#f6ff7c"/><stop offset="0.331" stop-color="#f6ff83"/><stop offset="0.376" stop-color="#fffff8"/><stop offset="0.380" stop-color="#fdfdff"/><stop offset="0.445" stop-color="#b7afff"/><stop offset="0.620" stop-color="#2009ff"/><stop offset="0.633" stop-color="#1902ff"/><stop offset="1.000" stop-color="#1800ff"/></linearGradient><linearGradient id="g42" gradientUnits="userSpaceOnUse" x1="56.3" x2="301.1" y1="0" y2="0"><stop offset="0.000" stop-color="#f99720"/><stop offset="0.008" stop-color="#f99720"/><stop offset="0.012" stop-color="#fa911f"/><stop offset="0.029" stop-color="#fe390f"/><stop offset="0.033" stop-color="#fe310d"/><stop offset="0.110" stop-color="#fe340e"/><stop offset="0.151" stop-color="#fc5b15"/><stop offset="0.220" stop-color="#f3dd2c"/><stop offset="0.249" stop-color="#f0ff33"/><stop offset="0.261" stop-color="#f1ff40"/><stop offset="0.302" stop-color="#f3ff5a"/><stop offset="0.331" stop-color="#f7ff89"/><stop offset="0.376" stop-color="#fffffb"/><stop offset="0.380" stop-color="#fcfbff"/><stop offset="0.445" stop-color="#b6afff"/><stop offset="0.624" stop-color="#1c04ff"/><stop offset="0.637" stop-color="#1800ff"/><stop offset="1.000" stop-color="#1800ff"/></linearGradient><linearGradient id="g43" gradientUnits="userSpaceOnUse" x1="56.3" x2="301.1" y1="0" y2="0"><stop offset="0.000" stop-color="#f99720"/><stop offset="0.008" stop-color="#f99720"/><stop offset="0.012" stop-color="#fa911f"/><stop offset="0.029" stop-color="#fe3b0f"/><stop offset="0.033" stop-color="#fe320e"/><stop offset="0.110" stop-color="#fe340e"/><stop offset="0.114" stop-color="#fe350e"/><stop offset="0.151" stop-color="#fc6116"/><stop offset="0.220" stop-color="#f2e52d"/><stop offset="0.245" stop-color="#f0ff33"/><stop offset="0.261" stop-color="#f1ff42"/><stop offset="0.302" stop-color="#f3ff5c"/><stop offset="0.331" stop-color="#f7ff90"/><stop offset="0.376" stop-color="#fffffe"/><stop offset="0.445" stop-color="#b5aeff"/><stop offset="0.624" stop-color="#1b03ff"/><stop offset="0.637" stop-color="#1800ff"/><stop offset="1.000" stop-color="#1800ff"/></linearGradient><linearGradient id="g44" gradientUnits="userSpaceOnUse" x1="56.3" x2="301.1" y1="0" y2="0"><stop offset="0.000" stop-color="#f99720"/><stop offset="0.008" stop-color="#f99720"/><stop offset="0.012" stop-color="#fa911f"/><stop offset="0.029" stop-color="#fe3e10"/><stop offset="0.033" stop-color="#fe330e"/><stop offset="0.110" stop-color="#fe340e"/><stop offset="0.114" stop-color="#fe360e"/><stop offset="0.151" stop-color="#fc6717"/><stop offset="0.163" stop-color="#fb7b1b"/><stop offset="0.220" stop-color="#f2ed2f"/><stop offset="0.237" stop-color="#f0fd32"/><stop offset="0.302" stop-color="#f3ff5e"/><stop offset="0.331" stop-color="#f8ff96"/><stop offset="0.371" stop-color="#fffff9"/><stop offset="0.376" stop-color="#fefdff"/><stop offset="0.445" stop-color="#b5adff"/><stop offset="0.624" stop-color="#1a02ff"/><stop offset="1.000" stop-color="#1800ff"/></linearGradient><linearGradient id="g45" gradientUnits="userSpaceOnUse" x1="56.3" x2="301.1" y1="0" y2="0"><stop offset="0.000" stop-color="#f99720"/><stop offset="0.008" stop-color="#f99720"/><stop offset="0.012" stop-color="#fa911f"/><stop offset="0.029" stop-color="#fd4010"/><stop offset="0.033" stop-color="#fe340e"/><stop offset="0.110" stop-color="#fe350e"/><stop offset="0.114" stop-color="#fe360e"/><stop offset="0.159" stop-color="#fb7a1b"/><stop offset="0.216" stop-color="#f1ef2f"/><stop offset="0.229" stop-color="#f0fc32"/><stop offset="0.302" stop-color="#f4ff60"/><stop offset="0.331" stop-color="#f8ff9d"/><stop offset="0.371" stop-color="#fffffd"/><stop offset="0.441" stop-color="#b8b0ff"/><stop offset="0.624" stop-color="#1901ff"/><stop offset="1.000" stop-color="#1800ff"/></linearGradient><linearGradient id="g46" gradientUnits="userSpaceOnUse" x1="56.3" x2="301.1" y1="0" y2="0"><stop offset="0.000" stop-color="#f99720"/><stop offset="0.008" stop-color="#f99720"/><stop offset="0.012" stop-color="#fa921f"/><stop offset="0.029" stop-color="#fd4311"/><stop offset="0.033" stop-color="#fe350e"/><stop offset="0.110" stop-color="#fe350e"/><stop offset="0.114" stop-color="#fe370f"/><stop offset="0.163" stop-color="#fa881d"/><stop offset="0.220" stop-color="#f0fe32"/><stop offset="0.302" stop-color="#f4ff62"/><stop offset="0.367" stop-color="#fefff7"/><stop offset="0.371" stop-color="#fefeff"/><stop offset="0.437" stop-color="#bbb3ff"/><stop offset="0.624" stop-color="#1800ff"/><stop offset="1.000" stop-color="#1800ff"/></linearGradient><linearGradient id="g47" gradientUnits="userSpaceOnUse" x1="56.3" x2="301.1" y1="0" y2="0"><stop offset="0.000" stop-color="#f99720"/><stop offset="0.008" stop-color="#f99720"/><stop offset="0.012" stop-color="#fa911f"/><stop offset="0.029" stop-color="#fd4511"/><stop offset="0.033" stop-color="#fe380f"/><stop offset="0.057" stop-color="#fe350e"/><stop offset="0.110" stop-color="#fe3c10"/><stop offset="0.114" stop-color="#fe3f10"/><stop offset="0.139" stop-color="#fc6a18"/><stop offset="0.216" stop-color="#f0fb31"/><stop offset="0.220" stop-color="#f0ff35"/><stop offset="0.302" stop-color="#f4ff65"/><stop offset="0.367" stop-color="#fffff9"/><stop offset="0.371" stop-color="#fefdff"/><stop offset="0.437" stop-color="#bab3ff"/><stop offset="0.624" stop-color="#1800ff"/><stop offset="1.000" stop-color="#1800ff"/></linearGradient><linearGradient id="g48" gradientUnits="userSpaceOnUse" x1="56.3" x2="301.1" y1="0" y2="0"><stop offset="0.000" stop-color="#f99620"/><stop offset="0.008" stop-color="#f99620"/><stop offset="0.012" stop-color="#fa911f"/><stop offset="0.029" stop-color="#fd4812"/><stop offset="0.033" stop-color="#fe3c0f"/><stop offset="0.057" stop-color="#fe350e"/><stop offset="0.082" stop-color="#fe390f"/><stop offset="0.114" stop-color="#fd4812"/><stop offset="0.163" stop-color="#f8a422"/><stop offset="0.216" stop-color="#f0ff32"/><stop offset="0.290" stop-color="#f3ff5b"/><stop offset="0.302" stop-color="#f4ff67"/><stop offset="0.367" stop-color="#fffffa"/><stop offset="0.371" stop-color="#fdfdff"/><stop offset="0.437" stop-color="#b9b2ff"/><stop offset="0.608" stop-color="#230cff"/><stop offset="0.624" stop-color="#1800ff"/><stop offset="1.000" stop-color="#1800ff"/></linearGradient><linearGradient id="g49" gradientUnits="userSpaceOnUse" x1="56.3" x2="301.1" y1="0" y2="0"><stop offset="0.000" stop-color="#f99520"/><stop offset="0.008" stop-color="#f99520"/><stop offset="0.012" stop-color="#fa901f"/><stop offset="0.029" stop-color="#fd4a12"/><stop offset="0.033" stop-color="#fd4010"/><stop offset="0.057" stop-color="#fe350e"/><stop offset="0.078" stop-color="#fe390f"/><stop offset="0.114" stop-color="#fd5213"/><stop offset="0.163" stop-color="#f7b425"/><stop offset="0.216" stop-color="#f0ff35"/><stop offset="0.298" stop-color="#f4ff63"/><stop offset="0.302" stop-color="#f4ff69"/><stop offset="0.367" stop-color="#fffffb"/><stop offset="0.371" stop-color="#fcfcff"/><stop offset="0.433" stop-color="#bdb6ff"/><stop offset="0.486" stop-color="#8d81ff"/><stop offset="0.608" stop-color="#210aff"/><stop offset="0.624" stop-color="#1800ff"/><stop offset="1.000" stop-color="#1800ff"/></linearGradient><linearGradient id="g50" gradientUnits="userSpaceOnUse" x1="56.3" x2="301.1" y1="0" y2="0"><stop offset="0.000" stop-color="#f9951f"/><stop offset="0.008" stop-color="#f9951f"/><stop offset="0.012" stop-color="#fa901f"/><stop offset="0.029" stop-color="#fd4d13"/><stop offset="0.033" stop-color="#fd4411"/><stop offset="0.057" stop-color="#fe350e"/><stop offset="0.078" stop-color="#fe3a0f"/><stop offset="0.114" stop-color="#fc5b15"/><stop offset="0.163" stop-color="#f5c328"/><stop offset="0.212" stop-color="#f0ff33"/><stop offset="0.220" stop-color="#f1ff3b"/><stop offset="0.290" stop-color="#f3ff5d"/><stop offset="0.302" stop-color="#f4ff6c"/><stop offset="0.367" stop-color="#fffffc"/><stop offset="0.437" stop-color="#b8b1ff"/><stop offset="0.608" stop-color="#2009ff"/><stop offset="0.620" stop-color="#1902ff"/><stop offset="1.000" stop-color="#1800ff"/></linearGradient><linearGradient id="g51" gradientUnits="userSpaceOnUse" x1="56.3" x2="301.1" y1="0" y2="0"><stop offset="0.000" stop-color="#f9941f"/><stop offset="0.008" stop-color="#f9941f"/><stop offset="0.012" stop-color="#fa8f1f"/><stop offset="0.029" stop-color="#fd5013"/><stop offset="0.033" stop-color="#fd4712"/><stop offset="0.057" stop-color="#fe360e"/><stop offset="0.078" stop-color="#fe3c0f"/><stop offset="0.114" stop-color="#fc6417"/><stop offset="0.163" stop-color="#f4d22a"/><stop offset="0.204" stop-color="#f0fc31"/><stop offset="0.220" stop-color="#f1ff3e"/><stop offset="0.290" stop-color="#f3ff5d"/><stop offset="0.302" stop-color="#f5ff6e"/><stop offset="0.367" stop-color="#fffffe"/><stop offset="0.437" stop-color="#b7b0ff"/><stop offset="0.612" stop-color="#1b04ff"/><stop offset="0.624" stop-color="#1800ff"/><stop offset="1.000" stop-color="#1800ff"/></linearGradient><linearGradient id="g52" gradientUnits="userSpaceOnUse" x1="56.3" x2="301.1" y1="0" y2="0"><stop offset="0.000" stop-color="#f9931f"/><stop offset="0.008" stop-color="#f9931f"/><stop offset="0.012" stop-color="#fa8e1e"/><stop offset="0.024" stop-color="#fc6016"/><stop offset="0.029" stop-color="#fd5213"/><stop offset="0.033" stop-color="#fd4b12"/><stop offset="0.057" stop-color="#fe360e"/><stop offset="0.078" stop-color="#fe3d10"/><stop offset="0.114" stop-color="#fb6e19"/><stop offset="0.139" stop-color="#f8a422"/><stop offset="0.163" stop-color="#f3e12d"/><stop offset="0.200" stop-color="#f0fe32"/><stop offset="0.220" stop-color="#f1ff40"/><stop offset="0.290" stop-color="#f3ff5e"/><stop offset="0.302" stop-color="#f5ff70"/><stop offset="0.367" stop-color="#ffffff"/><stop offset="0.437" stop-color="#b7afff"/><stop offset="0.612" stop-color="#1a02ff"/><stop offset="1.000" stop-color="#1800ff"/></linearGradient><linearGradient id="g53" gradientUnits="userSpaceOnUse" x1="56.3" x2="301.1" y1="0" y2="0"><stop offset="0.000" stop-color="#f9921f"/><stop offset="0.012" stop-color="#fa8e1e"/><stop offset="0.029" stop-color="#fd5514"/><stop offset="0.057" stop-color="#fe360e"/><stop offset="0.082" stop-color="#fd4210"/><stop offset="0.110" stop-color="#fb7019"/><stop offset="0.139" stop-color="#f7b024"/><stop offset="0.163" stop-color="#f1f02f"/><stop offset="0.192" stop-color="#f0ff33"/><stop offset="0.290" stop-color="#f3ff5f"/><stop offset="0.298" stop-color="#f4ff6a"/><stop offset="0.367" stop-color="#fefeff"/><stop offset="0.429" stop-color="#beb7ff"/><stop offset="0.612" stop-color="#1901ff"/><stop offset="1.000" stop-color="#1800ff"/></linearGradient><linearGradient id="g54" gradientUnits="userSpaceOnUse" x1="56.3" x2="301.1" y1="0" y2="0"><stop offset="0.000" stop-color="#f99520"/><stop offset="0.012" stop-color="#fa911f"/><stop offset="0.029" stop-color="#fc5b15"/><stop offset="0.057" stop-color="#fe3b0f"/><stop offset="0.082" stop-color="#fd4a12"/><stop offset="0.110" stop-color="#fb7c1b"/><stop offset="0.139" stop-color="#f6bc26"/><stop offset="0.163" stop-color="#f0fb31"/><stop offset="0.176" stop-color="#f0ff33"/><stop offset="0.290" stop-color="#f4ff60"/><stop offset="0.294" stop-color="#f4ff64"/><stop offset="0.363" stop-color="#fffff9"/><stop offset="0.367" stop-color="#fefeff"/><stop offset="0.429" stop-color="#bdb6ff"/><stop offset="0.612" stop-color="#1800ff"/><stop offset="1.000" stop-color="#1800ff"/></linearGradient><linearGradient id="g55" gradientUnits="userSpaceOnUse" x1="56.3" x2="301.1" y1="0" y2="0"><stop offset="0.000" stop-color="#f89e21"/><stop offset="0.012" stop-color="#f99a20"/><stop offset="0.029" stop-color="#fc6717"/><stop offset="0.045" stop-color="#fd5314"/><stop offset="0.057" stop-color="#fd4a12"/><stop offset="0.082" stop-color="#fc5e16"/><stop offset="0.135" stop-color="#f6bf27"/><stop offset="0.163" stop-color="#f0ff32"/><stop offset="0.282" stop-color="#f3ff5d"/><stop offset="0.294" stop-color="#f4ff67"/><stop offset="0.363" stop-color="#fffffa"/><stop offset="0.367" stop-color="#fdfdff"/><stop offset="0.429" stop-color="#bdb6ff"/><stop offset="0.612" stop-color="#1800ff"/><stop offset="1.000" stop-color="#1800ff"/></linearGradient><linearGradient id="g56" gradientUnits="userSpaceOnUse" x1="56.3" x2="301.1" y1="0" y2="0"><stop offset="0.000" stop-color="#f8a723"/><stop offset="0.012" stop-color="#f8a422"/><stop offset="0.029" stop-color="#fb731a"/><stop offset="0.045" stop-color="#fc5f16"/><stop offset="0.057" stop-color="#fc5a15"/><stop offset="0.082" stop-color="#fb7219"/><stop offset="0.139" stop-color="#f4d32a"/><stop offset="0.159" stop-color="#f0fc32"/><stop offset="0.282" stop-color="#f3ff5e"/><stop offset="0.294" stop-color="#f4ff6a"/><stop offset="0.363" stop-color="#fffffb"/><stop offset="0.367" stop-color="#fdfcff"/><stop offset="0.429" stop-color="#bcb5ff"/><stop offset="0.478" stop-color="#8e83ff"/><stop offset="0.600" stop-color="#2009ff"/><stop offset="0.612" stop-color="#1800ff"/><stop offset="1.000" stop-color="#1800ff"/></linearGradient><linearGradient id="g57" gradientUnits="userSpaceOnUse" x1="56.3" x2="301.1" y1="0" y2="0"><stop offset="0.000" stop-color="#f7b124"/><stop offset="0.012" stop-color="#f7ad24"/><stop offset="0.029" stop-color="#fb801c"/><stop offset="0.041" stop-color="#fb7019"/><stop offset="0.057" stop-color="#fc6918"/><stop offset="0.065" stop-color="#fb6f19"/><stop offset="0.078" stop-color="#fb801c"/><stop offset="0.098" stop-color="#f8a522"/><stop offset="0.159" stop-color="#f0ff34"/><stop offset="0.163" stop-color="#f1ff39"/><stop offset="0.282" stop-color="#f3ff5f"/><stop offset="0.294" stop-color="#f5ff6d"/><stop offset="0.363" stop-color="#fffffc"/><stop offset="0.429" stop-color="#bcb5ff"/><stop offset="0.482" stop-color="#8a7eff"/><stop offset="0.600" stop-color="#1f08ff"/><stop offset="0.612" stop-color="#1800ff"/><stop offset="1.000" stop-color="#1800ff"/></linearGradient><linearGradient id="g58" gradientUnits="userSpaceOnUse" x1="56.3" x2="301.1" y1="0" y2="0"><stop offset="0.000" stop-color="#f6ba26"/><stop offset="0.012" stop-color="#f6b625"/><stop offset="0.029" stop-color="#fa8c1e"/><stop offset="0.041" stop-color="#fb7c1b"/><stop offset="0.045" stop-color="#fb781a"/><stop offset="0.057" stop-color="#fb781a"/><stop offset="0.065" stop-color="#fb7f1c"/><stop offset="0.098" stop-color="#f6ba26"/><stop offset="0.155" stop-color="#f0ff34"/><stop offset="0.163" stop-color="#f1ff3c"/><stop offset="0.282" stop-color="#f4ff60"/><stop offset="0.294" stop-color="#f5ff70"/><stop offset="0.363" stop-color="#fffffd"/><stop offset="0.367" stop-color="#fcfbff"/><stop offset="0.424" stop-color="#bfb8ff"/><stop offset="0.478" stop-color="#8d81ff"/><stop offset="0.608" stop-color="#1901ff"/><stop offset="1.000" stop-color="#1800ff"/></linearGradient><linearGradient id="g59" gradientUnits="userSpaceOnUse" x1="56.3" x2="301.1" y1="0" y2="0"><stop offset="0.000" stop-color="#f5c328"/><stop offset="0.012" stop-color="#f5c027"/><stop offset="0.029" stop-color="#f99820"/><stop offset="0.045" stop-color="#fa841d"/><stop offset="0.065" stop-color="#fa8f1f"/><stop offset="0.098" stop-color="#f4ce2a"/><stop offset="0.114" stop-color="#f3e22d"/><stop offset="0.147" stop-color="#f0ff32"/><stop offset="0.163" stop-color="#f1ff40"/><stop offset="0.282" stop-color="#f4ff60"/><stop offset="0.294" stop-color="#f5ff73"/><stop offset="0.363" stop-color="#fffffe"/><stop offset="0.429" stop-color="#bab3ff"/><stop offset="0.604" stop-color="#1a02ff"/><stop offset="1.000" stop-color="#1800ff"/></linearGradient><linearGradient id="g60" gradientUnits="userSpaceOnUse" x1="56.3" x2="301.1" y1="0" y2="0"><stop offset="0.000" stop-color="#f4cc29"/><stop offset="0.012" stop-color="#f5c929"/><stop offset="0.029" stop-color="#f8a422"/><stop offset="0.045" stop-color="#fa901f"/><stop offset="0.065" stop-color="#f89f21"/><stop offset="0.098" stop-color="#f2e32d"/><stop offset="0.114" stop-color="#f1f530"/><stop offset="0.131" stop-color="#f0fe32"/><stop offset="0.163" stop-color="#f1ff43"/><stop offset="0.278" stop-color="#f3ff5f"/><stop offset="0.282" stop-color="#f4ff61"/><stop offset="0.294" stop-color="#f5ff77"/><stop offset="0.363" stop-color="#ffffff"/><stop offset="0.424" stop-color="#beb7ff"/><stop offset="0.473" stop-color="#8f83ff"/><stop offset="0.604" stop-color="#1901ff"/><stop offset="1.000" stop-color="#1800ff"/></linearGradient><linearGradient id="g61" gradientUnits="userSpaceOnUse" x1="56.3" x2="301.1" y1="0" y2="0"><stop offset="0.000" stop-color="#f4d52b"/><stop offset="0.012" stop-color="#f4d32a"/><stop offset="0.029" stop-color="#f7b124"/><stop offset="0.045" stop-color="#f99c21"/><stop offset="0.065" stop-color="#f7af24"/><stop offset="0.094" stop-color="#f1f02f"/><stop offset="0.106" stop-color="#f0ff33"/><stop offset="0.114" stop-color="#f1ff3a"/><stop offset="0.278" stop-color="#f4ff60"/><stop offset="0.282" stop-color="#f4ff62"/><stop offset="0.363" stop-color="#fefeff"/><stop offset="0.473" stop-color="#8e82ff"/><stop offset="0.604" stop-color="#1800ff"/><stop offset="1.000" stop-color="#1800ff"/></linearGradient><linearGradient id="g62" gradientUnits="userSpaceOnUse" x1="56.3" x2="301.1" y1="0" y2="0"><stop offset="0.000" stop-color="#f3db2c"/><stop offset="0.012" stop-color="#f3d92b"/><stop offset="0.029" stop-color="#f6bc26"/><stop offset="0.045" stop-color="#f7aa23"/><stop offset="0.065" stop-color="#f6bc26"/><stop offset="0.094" stop-color="#f1f731"/><stop offset="0.102" stop-color="#f0ff34"/><stop offset="0.114" stop-color="#f1ff3e"/><stop offset="0.278" stop-color="#f4ff60"/><stop offset="0.282" stop-color="#f4ff63"/><stop offset="0.363" stop-color="#fefdff"/><stop offset="0.478" stop-color="#8a7eff"/><stop offset="0.604" stop-color="#1800ff"/><stop offset="1.000" stop-color="#1800ff"/></linearGradient><linearGradient id="g63" gradientUnits="userSpaceOnUse" x1="56.3" x2="301.1" y1="0" y2="0"><stop offset="0.000" stop-color="#f3e12d"/><stop offset="0.012" stop-color="#f3df2c"/><stop offset="0.029" stop-color="#f5c728"/><stop offset="0.045" stop-color="#f6b926"/><stop offset="0.065" stop-color="#f5c828"/><stop offset="0.082" stop-color="#f2e72e"/><stop offset="0.098" stop-color="#f0ff33"/><stop offset="0.114" stop-color="#f1ff3f"/><stop offset="0.278" stop-color="#f4ff61"/><stop offset="0.282" stop-color="#f4ff64"/><stop offset="0.359" stop-color="#fffffb"/><stop offset="0.363" stop-color="#fdfdff"/><stop offset="0.478" stop-color="#897dff"/><stop offset="0.604" stop-color="#1800ff"/><stop offset="1.000" stop-color="#1800ff"/></linearGradient><linearGradient id="g64" gradientUnits="userSpaceOnUse" x1="56.3" x2="301.1" y1="0" y2="0"><stop offset="0.000" stop-color="#f2e62e"/><stop offset="0.012" stop-color="#f2e52d"/><stop offset="0.029" stop-color="#f4d22a"/><stop offset="0.045" stop-color="#f5c728"/><stop offset="0.065" stop-color="#f4d42b"/><stop offset="0.094" stop-color="#f0ff32"/><stop offset="0.114" stop-color="#f1ff41"/><stop offset="0.278" stop-color="#f4ff62"/><stop offset="0.282" stop-color="#f4ff64"/><stop offset="0.359" stop-color="#fffffc"/><stop offset="0.363" stop-color="#fcfcff"/><stop offset="0.478" stop-color="#897cff"/><stop offset="0.592" stop-color="#2008ff"/><stop offset="0.604" stop-color="#1800ff"/><stop offset="1.000" stop-color="#1800ff"/></linearGradient><linearGradient id="g65" gradientUnits="userSpaceOnUse" x1="56.3" x2="301.1" y1="0" y2="0"><stop offset="0.000" stop-color="#f2eb2f"/><stop offset="0.012" stop-color="#f2eb2e"/><stop offset="0.045" stop-color="#f4d52b"/><stop offset="0.065" stop-color="#f3e02d"/><stop offset="0.090" stop-color="#f0fe32"/><stop offset="0.114" stop-color="#f1ff42"/><stop offset="0.278" stop-color="#f4ff62"/><stop offset="0.282" stop-color="#f4ff65"/><stop offset="0.359" stop-color="#fffffd"/><stop offset="0.363" stop-color="#fcfbff"/><stop offset="0.473" stop-color="#8c80ff"/><stop offset="0.600" stop-color="#1902ff"/><stop offset="1.000" stop-color="#1800ff"/></linearGradient><linearGradient id="g66" gradientUnits="userSpaceOnUse" x1="56.3" x2="301.1" y1="0" y2="0"><stop offset="0.000" stop-color="#f1f130"/><stop offset="0.016" stop-color="#f1ef2f"/><stop offset="0.045" stop-color="#f2e32d"/><stop offset="0.065" stop-color="#f2ec2f"/><stop offset="0.086" stop-color="#f0ff33"/><stop offset="0.114" stop-color="#f1ff43"/><stop offset="0.278" stop-color="#f4ff63"/><stop offset="0.282" stop-color="#f4ff66"/><stop offset="0.359" stop-color="#fffffe"/><stop offset="0.363" stop-color="#fbfbff"/><stop offset="0.424" stop-color="#bbb4ff"/><stop offset="0.596" stop-color="#1a03ff"/><stop offset="1.000" stop-color="#1800ff"/></linearGradient><linearGradient id="g67" gradientUnits="userSpaceOnUse" x1="56.3" x2="301.1" y1="0" y2="0"><stop offset="0.000" stop-color="#f1f630"/><stop offset="0.045" stop-color="#f1f130"/><stop offset="0.073" stop-color="#f0fe32"/><stop offset="0.114" stop-color="#f1ff45"/><stop offset="0.278" stop-color="#f4ff64"/><stop offset="0.282" stop-color="#f4ff66"/><stop offset="0.359" stop-color="#ffffff"/><stop offset="0.424" stop-color="#bab3ff"/><stop offset="0.596" stop-color="#1902ff"/><stop offset="1.000" stop-color="#1800ff"/></linearGradient><linearGradient id="g68" gradientUnits="userSpaceOnUse" x1="56.3" x2="301.1" y1="0" y2="0"><stop offset="0.000" stop-color="#f0fc31"/><stop offset="0.045" stop-color="#f0ff32"/><stop offset="0.114" stop-color="#f2ff46"/><stop offset="0.278" stop-color="#f4ff64"/><stop offset="0.282" stop-color="#f4ff67"/><stop offset="0.359" stop-color="#fefeff"/><stop offset="0.420" stop-color="#beb7ff"/><stop offset="0.596" stop-color="#1901ff"/><stop offset="1.000" stop-color="#1800ff"/></linearGradient><linearGradient id="g69" gradientUnits="userSpaceOnUse" x1="56.3" x2="301.1" y1="0" y2="0"><stop offset="0.000" stop-color="#f1ff3d"/><stop offset="0.065" stop-color="#f1ff3f"/><stop offset="0.278" stop-color="#f4ff66"/><stop offset="0.282" stop-color="#f4ff69"/><stop offset="0.359" stop-color="#fefeff"/><stop offset="0.420" stop-color="#bdb6ff"/><stop offset="0.596" stop-color="#1800ff"/><stop offset="1.000" stop-color="#1800ff"/></linearGradient><linearGradient id="g70" gradientUnits="userSpaceOnUse" x1="56.3" x2="301.1" y1="0" y2="0"><stop offset="0.000" stop-color="#f3ff5c"/><stop offset="0.012" stop-color="#f3ff5b"/><stop offset="0.033" stop-color="#f2ff4a"/><stop offset="0.065" stop-color="#f1ff41"/><stop offset="0.278" stop-color="#f4ff6a"/><stop offset="0.282" stop-color="#f5ff6d"/><stop offset="0.294" stop-color="#f6ff82"/><stop offset="0.351" stop-color="#fefff4"/><stop offset="0.359" stop-color="#fdfcff"/><stop offset="0.469" stop-color="#8e82ff"/><stop offset="0.596" stop-color="#1800ff"/><stop offset="1.000" stop-color="#1800ff"/></linearGradient><linearGradient id="g71" gradientUnits="userSpaceOnUse" x1="56.3" x2="301.1" y1="0" y2="0"><stop offset="0.000" stop-color="#f6ff7b"/><stop offset="0.012" stop-color="#f5ff79"/><stop offset="0.033" stop-color="#f3ff56"/><stop offset="0.065" stop-color="#f1ff42"/><stop offset="0.278" stop-color="#f5ff6f"/><stop offset="0.282" stop-color="#f5ff71"/><stop offset="0.294" stop-color="#f6ff84"/><stop offset="0.355" stop-color="#fffffd"/><stop offset="0.473" stop-color="#897dff"/><stop offset="0.584" stop-color="#2009ff"/><stop offset="0.596" stop-color="#1800ff"/><stop offset="1.000" stop-color="#1800ff"/></linearGradient><linearGradient id="g72" gradientUnits="userSpaceOnUse" x1="56.3" x2="301.1" y1="0" y2="0"><stop offset="0.000" stop-color="#f8ff9a"/><stop offset="0.012" stop-color="#f8ff97"/><stop offset="0.033" stop-color="#f4ff63"/><stop offset="0.065" stop-color="#f1ff44"/><stop offset="0.278" stop-color="#f5ff73"/><stop offset="0.294" stop-color="#f6ff85"/><stop offset="0.355" stop-color="#ffffff"/><stop offset="0.506" stop-color="#6a5aff"/><stop offset="0.584" stop-color="#1f08ff"/><stop offset="0.596" stop-color="#1800ff"/><stop offset="1.000" stop-color="#1800ff"/></linearGradient><linearGradient id="g73" gradientUnits="userSpaceOnUse" x1="56.3" x2="301.1" y1="0" y2="0"><stop offset="0.000" stop-color="#faffb8"/><stop offset="0.012" stop-color="#faffb4"/><stop offset="0.033" stop-color="#f5ff6f"/><stop offset="0.065" stop-color="#f2ff46"/><stop offset="0.237" stop-color="#f4ff6b"/><stop offset="0.282" stop-color="#f5ff79"/><stop offset="0.294" stop-color="#f7ff87"/><stop offset="0.355" stop-color="#fefeff"/><stop offset="0.502" stop-color="#6d5eff"/><stop offset="0.592" stop-color="#1901ff"/><stop offset="1.000" stop-color="#1800ff"/></linearGradient><linearGradient id="g74" gradientUnits="userSpaceOnUse" x1="56.3" x2="301.1" y1="0" y2="0"><stop offset="0.000" stop-color="#fcffd7"/><stop offset="0.008" stop-color="#fcffd7"/><stop offset="0.012" stop-color="#fcffd2"/><stop offset="0.033" stop-color="#f6ff7b"/><stop offset="0.065" stop-color="#f2ff48"/><stop offset="0.237" stop-color="#f5ff6e"/><stop offset="0.282" stop-color="#f6ff7d"/><stop offset="0.294" stop-color="#f7ff88"/><stop offset="0.351" stop-color="#fffffc"/><stop offset="0.355" stop-color="#fdfcff"/><stop offset="0.588" stop-color="#1a02ff"/><stop offset="1.000" stop-color="#1800ff"/></linearGradient><linearGradient id="g75" gradientUnits="userSpaceOnUse" x1="56.3" x2="301.1" y1="0" y2="0"><stop offset="0.000" stop-color="#fefff5"/><stop offset="0.008" stop-color="#fefff5"/><stop offset="0.012" stop-color="#feffef"/><stop offset="0.033" stop-color="#f7ff88"/><stop offset="0.065" stop-color="#f2ff4a"/><stop offset="0.237" stop-color="#f5ff71"/><stop offset="0.282" stop-color="#f6ff81"/><stop offset="0.294" stop-color="#f7ff8a"/><stop offset="0.351" stop-color="#fffffe"/><stop offset="0.355" stop-color="#fcfbff"/><stop offset="0.588" stop-color="#1901ff"/><stop offset="1.000" stop-color="#1800ff"/></linearGradient><linearGradient id="g76" gradientUnits="userSpaceOnUse" x1="56.3" x2="301.1" y1="0" y2="0"><stop offset="0.000" stop-color="#f3f2ff"/><stop offset="0.008" stop-color="#f3f2ff"/><stop offset="0.012" stop-color="#f7f6ff"/><stop offset="0.016" stop-color="#fefff4"/><stop offset="0.029" stop-color="#f9ffa9"/><stop offset="0.033" stop-color="#f8ff94"/><stop offset="0.065" stop-color="#f2ff4c"/><stop offset="0.237" stop-color="#f5ff74"/><stop offset="0.290" stop-color="#f7ff88"/><stop offset="0.294" stop-color="#f7ff8b"/><stop offset="0.351" stop-color="#fefeff"/><stop offset="0.588" stop-color="#1800ff"/><stop offset="1.000" stop-color="#1800ff"/></linearGradient><linearGradient id="g77" gradientUnits="userSpaceOnUse" x1="56.3" x2="301.1" y1="0" y2="0"><stop offset="0.000" stop-color="#e8e5ff"/><stop offset="0.008" stop-color="#e8e5ff"/><stop offset="0.012" stop-color="#eceaff"/><stop offset="0.016" stop-color="#fafaff"/><stop offset="0.020" stop-color="#feffee"/><stop offset="0.033" stop-color="#f9ffa8"/><stop offset="0.061" stop-color="#f3ff5e"/><stop offset="0.065" stop-color="#f3ff57"/><stop offset="0.090" stop-color="#f3ff53"/><stop offset="0.241" stop-color="#f6ff79"/><stop offset="0.290" stop-color="#f7ff8c"/><stop offset="0.294" stop-color="#f7ff8f"/><stop offset="0.351" stop-color="#fefeff"/><stop offset="0.494" stop-color="#7668ff"/><stop offset="0.588" stop-color="#1800ff"/><stop offset="1.000" stop-color="#1800ff"/></linearGradient><linearGradient id="g78" gradientUnits="userSpaceOnUse" x1="56.3" x2="301.1" y1="0" y2="0"><stop offset="0.000" stop-color="#dedbff"/><stop offset="0.008" stop-color="#dedbff"/><stop offset="0.012" stop-color="#e2dfff"/><stop offset="0.020" stop-color="#fefeff"/><stop offset="0.033" stop-color="#faffbd"/><stop offset="0.061" stop-color="#f5ff6c"/><stop offset="0.065" stop-color="#f4ff64"/><stop offset="0.090" stop-color="#f3ff55"/><stop offset="0.147" stop-color="#f4ff60"/><stop offset="0.290" stop-color="#f7ff8f"/><stop offset="0.294" stop-color="#f8ff93"/><stop offset="0.347" stop-color="#fffffa"/><stop offset="0.351" stop-color="#fdfdff"/><stop offset="0.498" stop-color="#7567ff"/><stop offset="0.571" stop-color="#250eff"/><stop offset="0.588" stop-color="#1800ff"/><stop offset="1.000" stop-color="#1800ff"/></linearGradient><linearGradient id="g79" gradientUnits="userSpaceOnUse" x1="56.3" x2="301.1" y1="0" y2="0"><stop offset="0.000" stop-color="#d4d0ff"/><stop offset="0.012" stop-color="#d8d4ff"/><stop offset="0.024" stop-color="#fffffd"/><stop offset="0.033" stop-color="#fcffd2"/><stop offset="0.061" stop-color="#f6ff7a"/><stop offset="0.065" stop-color="#f5ff71"/><stop offset="0.090" stop-color="#f3ff57"/><stop offset="0.147" stop-color="#f4ff61"/><stop offset="0.200" stop-color="#f5ff79"/><stop offset="0.282" stop-color="#f7ff8d"/><stop offset="0.294" stop-color="#f8ff97"/><stop offset="0.322" stop-color="#fbffc9"/><stop offset="0.347" stop-color="#fffffb"/><stop offset="0.351" stop-color="#fdfdff"/><stop offset="0.498" stop-color="#796bff"/><stop offset="0.571" stop-color="#230cff"/><stop offset="0.588" stop-color="#1800ff"/><stop offset="1.000" stop-color="#1800ff"/></linearGradient><linearGradient id="g80" gradientUnits="userSpaceOnUse" x1="56.3" x2="301.1" y1="0" y2="0"><stop offset="0.000" stop-color="#cac5ff"/><stop offset="0.012" stop-color="#cec9ff"/><stop offset="0.024" stop-color="#f5f4ff"/><stop offset="0.029" stop-color="#fffffb"/><stop offset="0.033" stop-color="#fdffe7"/><stop offset="0.061" stop-color="#f7ff88"/><stop offset="0.065" stop-color="#f6ff7e"/><stop offset="0.090" stop-color="#f3ff59"/><stop offset="0.147" stop-color="#f4ff62"/><stop offset="0.200" stop-color="#f6ff7d"/><stop offset="0.282" stop-color="#f7ff90"/><stop offset="0.294" stop-color="#f8ff9b"/><stop offset="0.322" stop-color="#fbffca"/><stop offset="0.347" stop-color="#fffffd"/><stop offset="0.351" stop-color="#fdfcff"/><stop offset="0.498" stop-color="#7c6eff"/><stop offset="0.571" stop-color="#220bff"/><stop offset="0.588" stop-color="#1800ff"/><stop offset="1.000" stop-color="#1800ff"/></linearGradient><linearGradient id="g81" gradientUnits="userSpaceOnUse" x1="56.3" x2="301.1" y1="0" y2="0"><stop offset="0.000" stop-color="#c1baff"/><stop offset="0.012" stop-color="#c4beff"/><stop offset="0.033" stop-color="#fffffc"/><stop offset="0.061" stop-color="#f8ff96"/><stop offset="0.090" stop-color="#f3ff5b"/><stop offset="0.147" stop-color="#f4ff63"/><stop offset="0.200" stop-color="#f6ff82"/><stop offset="0.282" stop-color="#f8ff93"/><stop offset="0.294" stop-color="#f8ff9f"/><stop offset="0.318" stop-color="#fbffc5"/><stop offset="0.347" stop-color="#fffffe"/><stop offset="0.351" stop-color="#fcfcff"/><stop offset="0.498" stop-color="#7f72ff"/><stop offset="0.576" stop-color="#1c04ff"/><stop offset="0.588" stop-color="#1800ff"/><stop offset="1.000" stop-color="#1800ff"/></linearGradient><linearGradient id="g82" gradientUnits="userSpaceOnUse" x1="56.3" x2="301.1" y1="0" y2="0"><stop offset="0.000" stop-color="#b7afff"/><stop offset="0.012" stop-color="#bab3ff"/><stop offset="0.037" stop-color="#fefeff"/><stop offset="0.061" stop-color="#f9ffa4"/><stop offset="0.090" stop-color="#f3ff5d"/><stop offset="0.147" stop-color="#f4ff64"/><stop offset="0.200" stop-color="#f7ff87"/><stop offset="0.282" stop-color="#f8ff96"/><stop offset="0.294" stop-color="#f9ffa3"/><stop offset="0.322" stop-color="#fcffcc"/><stop offset="0.347" stop-color="#ffffff"/><stop offset="0.498" stop-color="#8276ff"/><stop offset="0.576" stop-color="#1a03ff"/><stop offset="1.000" stop-color="#1800ff"/></linearGradient><linearGradient id="g83" gradientUnits="userSpaceOnUse" x1="56.3" x2="301.1" y1="0" y2="0"><stop offset="0.000" stop-color="#ada4ff"/><stop offset="0.012" stop-color="#b0a8ff"/><stop offset="0.041" stop-color="#fcfcff"/><stop offset="0.057" stop-color="#fbffbf"/><stop offset="0.086" stop-color="#f4ff68"/><stop offset="0.090" stop-color="#f4ff5f"/><stop offset="0.147" stop-color="#f4ff66"/><stop offset="0.200" stop-color="#f7ff8c"/><stop offset="0.282" stop-color="#f8ff98"/><stop offset="0.322" stop-color="#fcffcd"/><stop offset="0.347" stop-color="#ffffff"/><stop offset="0.498" stop-color="#8679ff"/><stop offset="0.576" stop-color="#1901ff"/><stop offset="1.000" stop-color="#1800ff"/></linearGradient><linearGradient id="g84" gradientUnits="userSpaceOnUse" x1="56.3" x2="301.1" y1="0" y2="0"><stop offset="0.000" stop-color="#a49aff"/><stop offset="0.012" stop-color="#a79eff"/><stop offset="0.045" stop-color="#fffffe"/><stop offset="0.057" stop-color="#fbffc9"/><stop offset="0.086" stop-color="#f4ff6b"/><stop offset="0.090" stop-color="#f4ff62"/><stop offset="0.147" stop-color="#f4ff67"/><stop offset="0.200" stop-color="#f7ff8f"/><stop offset="0.282" stop-color="#f8ff9b"/><stop offset="0.322" stop-color="#fcffce"/><stop offset="0.347" stop-color="#fefeff"/><stop offset="0.498" stop-color="#897cff"/><stop offset="0.576" stop-color="#1800ff"/><stop offset="1.000" stop-color="#1800ff"/></linearGradient><linearGradient id="g85" gradientUnits="userSpaceOnUse" x1="56.3" x2="301.1" y1="0" y2="0"><stop offset="0.000" stop-color="#9c92ff"/><stop offset="0.012" stop-color="#9f95ff"/><stop offset="0.045" stop-color="#fefdff"/><stop offset="0.057" stop-color="#fbffcb"/><stop offset="0.073" stop-color="#f8ff93"/><stop offset="0.090" stop-color="#f4ff67"/><stop offset="0.143" stop-color="#f4ff68"/><stop offset="0.200" stop-color="#f7ff91"/><stop offset="0.282" stop-color="#f8ff9e"/><stop offset="0.322" stop-color="#fcffd0"/><stop offset="0.343" stop-color="#fffffa"/><stop offset="0.347" stop-color="#fefeff"/><stop offset="0.498" stop-color="#8b7eff"/><stop offset="0.535" stop-color="#5847ff"/><stop offset="0.567" stop-color="#210aff"/><stop offset="0.576" stop-color="#1800ff"/><stop offset="1.000" stop-color="#1800ff"/></linearGradient><linearGradient id="g86" gradientUnits="userSpaceOnUse" x1="56.3" x2="301.1" y1="0" y2="0"><stop offset="0.000" stop-color="#9489ff"/><stop offset="0.012" stop-color="#988dff"/><stop offset="0.045" stop-color="#fcfcff"/><stop offset="0.057" stop-color="#fcffcd"/><stop offset="0.073" stop-color="#f8ff94"/><stop offset="0.078" stop-color="#f7ff86"/><stop offset="0.090" stop-color="#f4ff6c"/><stop offset="0.135" stop-color="#f4ff68"/><stop offset="0.147" stop-color="#f4ff6b"/><stop offset="0.200" stop-color="#f7ff92"/><stop offset="0.282" stop-color="#f9ffa1"/><stop offset="0.322" stop-color="#fcffd1"/><stop offset="0.343" stop-color="#fffffb"/><stop offset="0.347" stop-color="#fdfdff"/><stop offset="0.473" stop-color="#a298ff"/><stop offset="0.498" stop-color="#8d81ff"/><stop offset="0.535" stop-color="#5c4cff"/><stop offset="0.567" stop-color="#1f08ff"/><stop offset="0.576" stop-color="#1800ff"/><stop offset="1.000" stop-color="#1800ff"/></linearGradient><linearGradient id="g87" gradientUnits="userSpaceOnUse" x1="56.3" x2="301.1" y1="0" y2="0"><stop offset="0.000" stop-color="#8c80ff"/><stop offset="0.012" stop-color="#9084ff"/><stop offset="0.045" stop-color="#fafaff"/><stop offset="0.049" stop-color="#fefff2"/><stop offset="0.057" stop-color="#fcffd0"/><stop offset="0.073" stop-color="#f8ff94"/><stop offset="0.078" stop-color="#f7ff87"/><stop offset="0.086" stop-color="#f5ff76"/><stop offset="0.090" stop-color="#f5ff70"/><stop offset="0.135" stop-color="#f4ff6a"/><stop offset="0.147" stop-color="#f5ff6d"/><stop offset="0.200" stop-color="#f8ff93"/><stop offset="0.282" stop-color="#f9ffa3"/><stop offset="0.322" stop-color="#fcffd3"/><stop offset="0.343" stop-color="#fffffc"/><stop offset="0.392" stop-color="#dad6ff"/><stop offset="0.473" stop-color="#a49bff"/><stop offset="0.498" stop-color="#8f83ff"/><stop offset="0.535" stop-color="#6150ff"/><stop offset="0.567" stop-color="#1e07ff"/><stop offset="0.576" stop-color="#1800ff"/><stop offset="1.000" stop-color="#1800ff"/></linearGradient><linearGradient id="g88" gradientUnits="userSpaceOnUse" x1="56.3" x2="301.1" y1="0" y2="0"><stop offset="0.000" stop-color="#8478ff"/><stop offset="0.012" stop-color="#887cff"/><stop offset="0.045" stop-color="#f8f8ff"/><stop offset="0.049" stop-color="#fefff4"/><stop offset="0.073" stop-color="#f8ff94"/><stop offset="0.078" stop-color="#f7ff87"/><stop offset="0.086" stop-color="#f6ff7a"/><stop offset="0.090" stop-color="#f5ff75"/><stop offset="0.139" stop-color="#f4ff6c"/><stop offset="0.200" stop-color="#f8ff95"/><stop offset="0.282" stop-color="#f9ffa6"/><stop offset="0.322" stop-color="#fcffd4"/><stop offset="0.343" stop-color="#fffffd"/><stop offset="0.392" stop-color="#dad6ff"/><stop offset="0.473" stop-color="#a79dff"/><stop offset="0.498" stop-color="#9185ff"/><stop offset="0.535" stop-color="#6555ff"/><stop offset="0.567" stop-color="#1d05ff"/><stop offset="0.576" stop-color="#1800ff"/><stop offset="1.000" stop-color="#1800ff"/></linearGradient><linearGradient id="g89" gradientUnits="userSpaceOnUse" x1="56.3" x2="301.1" y1="0" y2="0"><stop offset="0.000" stop-color="#7d6fff"/><stop offset="0.012" stop-color="#8174ff"/><stop offset="0.024" stop-color="#aaa1ff"/><stop offset="0.045" stop-color="#f7f6ff"/><stop offset="0.049" stop-color="#fefff6"/><stop offset="0.078" stop-color="#f7ff88"/><stop offset="0.090" stop-color="#f6ff7a"/><stop offset="0.139" stop-color="#f5ff6d"/><stop offset="0.200" stop-color="#f8ff96"/><stop offset="0.282" stop-color="#f9ffa9"/><stop offset="0.322" stop-color="#fcffd5"/><stop offset="0.343" stop-color="#fffffe"/><stop offset="0.392" stop-color="#d9d5ff"/><stop offset="0.473" stop-color="#a9a0ff"/><stop offset="0.498" stop-color="#9387ff"/><stop offset="0.535" stop-color="#695aff"/><stop offset="0.563" stop-color="#240dff"/><stop offset="0.567" stop-color="#1b03ff"/><stop offset="0.571" stop-color="#1902ff"/><stop offset="1.000" stop-color="#1800ff"/></linearGradient><linearGradient id="g90" gradientUnits="userSpaceOnUse" x1="56.3" x2="301.1" y1="0" y2="0"><stop offset="0.000" stop-color="#7567ff"/><stop offset="0.008" stop-color="#7567ff"/><stop offset="0.012" stop-color="#796bff"/><stop offset="0.024" stop-color="#a49aff"/><stop offset="0.045" stop-color="#f5f4ff"/><stop offset="0.049" stop-color="#fffff8"/><stop offset="0.073" stop-color="#f8ff95"/><stop offset="0.078" stop-color="#f7ff88"/><stop offset="0.090" stop-color="#f6ff7e"/><stop offset="0.139" stop-color="#f5ff6f"/><stop offset="0.200" stop-color="#f8ff98"/><stop offset="0.282" stop-color="#f9ffab"/><stop offset="0.322" stop-color="#fcffd7"/><stop offset="0.343" stop-color="#ffffff"/><stop offset="0.392" stop-color="#d9d5ff"/><stop offset="0.473" stop-color="#aca3ff"/><stop offset="0.498" stop-color="#958aff"/><stop offset="0.535" stop-color="#6e5eff"/><stop offset="0.567" stop-color="#1a02ff"/><stop offset="1.000" stop-color="#1800ff"/></linearGradient><linearGradient id="g91" gradientUnits="userSpaceOnUse" x1="56.3" x2="301.1" y1="0" y2="0"><stop offset="0.000" stop-color="#6d5eff"/><stop offset="0.008" stop-color="#6d5eff"/><stop offset="0.012" stop-color="#7263ff"/><stop offset="0.024" stop-color="#9e94ff"/><stop offset="0.045" stop-color="#f3f2ff"/><stop offset="0.049" stop-color="#fffffa"/><stop offset="0.073" stop-color="#f8ff96"/><stop offset="0.078" stop-color="#f7ff89"/><stop offset="0.139" stop-color="#f5ff70"/><stop offset="0.200" stop-color="#f8ff99"/><stop offset="0.282" stop-color="#f9ffae"/><stop offset="0.322" stop-color="#fcffd8"/><stop offset="0.339" stop-color="#fffff9"/><stop offset="0.343" stop-color="#fefeff"/><stop offset="0.392" stop-color="#d8d4ff"/><stop offset="0.473" stop-color="#aea6ff"/><stop offset="0.531" stop-color="#7769ff"/><stop offset="0.535" stop-color="#7263ff"/><stop offset="0.567" stop-color="#1800ff"/><stop offset="1.000" stop-color="#1800ff"/></linearGradient><linearGradient id="g92" gradientUnits="userSpaceOnUse" x1="56.3" x2="301.1" y1="0" y2="0"><stop offset="0.000" stop-color="#6c5dff"/><stop offset="0.008" stop-color="#6c5dff"/><stop offset="0.012" stop-color="#7062ff"/><stop offset="0.024" stop-color="#9d93ff"/><stop offset="0.045" stop-color="#f3f2ff"/><stop offset="0.049" stop-color="#fffffa"/><stop offset="0.073" stop-color="#f8ff96"/><stop offset="0.078" stop-color="#f7ff89"/><stop offset="0.139" stop-color="#f5ff71"/><stop offset="0.200" stop-color="#f8ff99"/><stop offset="0.282" stop-color="#f9ffae"/><stop offset="0.322" stop-color="#fcffd8"/><stop offset="0.339" stop-color="#fffff9"/><stop offset="0.343" stop-color="#fefeff"/><stop offset="0.392" stop-color="#d8d4ff"/><stop offset="0.473" stop-color="#afa6ff"/><stop offset="0.531" stop-color="#786aff"/><stop offset="0.535" stop-color="#7364ff"/><stop offset="0.567" stop-color="#1800ff"/><stop offset="1.000" stop-color="#1800ff"/></linearGradient><linearGradient id="g93" gradientUnits="userSpaceOnUse" x1="56.3" x2="301.1" y1="0" y2="0"><stop offset="0.000" stop-color="#6c5dff"/><stop offset="0.008" stop-color="#6c5dff"/><stop offset="0.012" stop-color="#7062ff"/><stop offset="0.024" stop-color="#9d93ff"/><stop offset="0.045" stop-color="#f3f2ff"/><stop offset="0.049" stop-color="#fffffa"/><stop offset="0.073" stop-color="#f8ff96"/><stop offset="0.078" stop-color="#f7ff89"/><stop offset="0.139" stop-color="#f5ff71"/><stop offset="0.200" stop-color="#f8ff99"/><stop offset="0.282" stop-color="#f9ffae"/><stop offset="0.322" stop-color="#fcffd8"/><stop offset="0.339" stop-color="#fffff9"/><stop offset="0.343" stop-color="#fefeff"/><stop offset="0.392" stop-color="#d8d4ff"/><stop offset="0.473" stop-color="#afa6ff"/><stop offset="0.531" stop-color="#786aff"/><stop offset="0.535" stop-color="#7364ff"/><stop offset="0.567" stop-color="#1800ff"/><stop offset="1.000" stop-color="#1800ff"/></linearGradient><linearGradient id="g94" gradientUnits="userSpaceOnUse" x1="56.3" x2="301.1" y1="0" y2="0"><stop offset="0.000" stop-color="#6c5dff"/><stop offset="0.008" stop-color="#6c5dff"/><stop offset="0.012" stop-color="#7062ff"/><stop offset="0.024" stop-color="#9d93ff"/><stop offset="0.045" stop-color="#f3f2ff"/><stop offset="0.049" stop-color="#fffffa"/><stop offset="0.073" stop-color="#f8ff96"/><stop offset="0.078" stop-color="#f7ff89"/><stop offset="0.139" stop-color="#f5ff71"/><stop offset="0.200" stop-color="#f8ff99"/><stop offset="0.282" stop-color="#f9ffae"/><stop offset="0.322" stop-color="#fcffd8"/><stop offset="0.339" stop-color="#fffff9"/><stop offset="0.343" stop-color="#fefeff"/><stop offset="0.392" stop-color="#d8d4ff"/><stop offset="0.473" stop-color="#afa6ff"/><stop offset="0.531" stop-color="#786aff"/><stop offset="0.535" stop-color="#7364ff"/><stop offset="0.567" stop-color="#1800ff"/><stop offset="1.000" stop-color="#1800ff"/></linearGradient><linearGradient id="g95" gradientUnits="userSpaceOnUse" x1="56.3" x2="301.1" y1="0" y2="0"><stop offset="0.000" stop-color="#6c5dff"/><stop offset="0.008" stop-color="#6c5dff"/><stop offset="0.012" stop-color="#7062ff"/><stop offset="0.024" stop-color="#9d93ff"/><stop offset="0.045" stop-color="#f3f2ff"/><stop offset="0.049" stop-color="#fffffa"/><stop offset="0.073" stop-color="#f8ff96"/><stop offset="0.078" stop-color="#f7ff89"/><stop offset="0.139" stop-color="#f5ff71"/><stop offset="0.200" stop-color="#f8ff99"/><stop offset="0.282" stop-color="#f9ffae"/><stop offset="0.322" stop-color="#fcffd8"/><stop offset="0.339" stop-color="#fffff9"/><stop offset="0.343" stop-color="#fefeff"/><stop offset="0.392" stop-color="#d8d4ff"/><stop offset="0.473" stop-color="#afa6ff"/><stop offset="0.531" stop-color="#786aff"/><stop offset="0.535" stop-color="#7364ff"/><stop offset="0.567" stop-color="#1800ff"/><stop offset="1.000" stop-color="#1800ff"/></linearGradient>
<clipPath id="ca"><polygon points="71.4,6.7 301.1,6.7 301.1,197.5 58.7,197.5 58.7,160 59.3,45"/></clipPath>
<filter id="vb" x="-2%" y="-2%" width="104%" height="104%"><feGaussianBlur stdDeviation="0.6 1.2"/></filter>
<linearGradient id="cbar" x1="0" y1="0" x2="0" y2="1"><stop offset="0" stop-color="#ff1e0a"/><stop offset="0.05" stop-color="#ff2a0c"/><stop offset="0.14" stop-color="#fb7a1e"/><stop offset="0.21" stop-color="#f5c02c"/><stop offset="0.26" stop-color="#f0f532"/><stop offset="0.32" stop-color="#f2ff4a"/><stop offset="0.41" stop-color="#f9ffaa"/><stop offset="0.50" stop-color="#ffffff"/><stop offset="0.74" stop-color="#8c80ff"/><stop offset="0.976" stop-color="#1800ff"/><stop offset="1" stop-color="#1800ff"/></linearGradient>
<pattern id="hatch" patternUnits="userSpaceOnUse" width="6.6" height="6.6" patternTransform="rotate(-45)"><rect width="6.6" height="6.6" fill="#e2e3ec"/><line x1="0" y1="3.3" x2="6.6" y2="3.3" stroke="#a4a4ae" stroke-width="0.85"/></pattern>
<pattern id="hatchA" patternUnits="userSpaceOnUse" width="6.6" height="6.6" patternTransform="rotate(-45)"><line x1="0" y1="3.3" x2="6.6" y2="3.3" stroke="#9a9aa4" stroke-width="0.85"/></pattern>
<radialGradient id="ball" cx="0.38" cy="0.35" r="0.65"><stop offset="0" stop-color="#ffd0d0"/><stop offset="0.35" stop-color="#ff3030"/><stop offset="1" stop-color="#ee1010"/></radialGradient>
</defs>
<g clip-path="url(#ca)"><g filter="url(#vb)"><rect x="56.3" y="6.70" width="244.8" height="2.60" fill="url(#g0)"/><rect x="56.3" y="8.70" width="244.8" height="2.60" fill="url(#g1)"/><rect x="56.3" y="10.70" width="244.8" height="2.60" fill="url(#g2)"/><rect x="56.3" y="12.70" width="244.8" height="2.60" fill="url(#g3)"/><rect x="56.3" y="14.70" width="244.8" height="2.60" fill="url(#g4)"/><rect x="56.3" y="16.70" width="244.8" height="2.60" fill="url(#g5)"/><rect x="56.3" y="18.70" width="244.8" height="2.60" fill="url(#g6)"/><rect x="56.3" y="20.70" width="244.8" height="2.60" fill="url(#g7)"/><rect x="56.3" y="22.70" width="244.8" height="2.60" fill="url(#g8)"/><rect x="56.3" y="24.70" width="244.8" height="2.60" fill="url(#g9)"/><rect x="56.3" y="26.70" width="244.8" height="2.60" fill="url(#g10)"/><rect x="56.3" y="28.70" width="244.8" height="2.60" fill="url(#g11)"/><rect x="56.3" y="30.70" width="244.8" height="2.60" fill="url(#g12)"/><rect x="56.3" y="32.70" width="244.8" height="2.60" fill="url(#g13)"/><rect x="56.3" y="34.70" width="244.8" height="2.60" fill="url(#g14)"/><rect x="56.3" y="36.70" width="244.8" height="2.60" fill="url(#g15)"/><rect x="56.3" y="38.70" width="244.8" height="2.60" fill="url(#g16)"/><rect x="56.3" y="40.70" width="244.8" height="2.60" fill="url(#g17)"/><rect x="56.3" y="42.70" width="244.8" height="2.60" fill="url(#g18)"/><rect x="56.3" y="44.70" width="244.8" height="2.60" fill="url(#g19)"/><rect x="56.3" y="46.70" width="244.8" height="2.60" fill="url(#g20)"/><rect x="56.3" y="48.70" width="244.8" height="2.60" fill="url(#g21)"/><rect x="56.3" y="50.70" width="244.8" height="2.60" fill="url(#g22)"/><rect x="56.3" y="52.70" width="244.8" height="2.60" fill="url(#g23)"/><rect x="56.3" y="54.70" width="244.8" height="2.60" fill="url(#g24)"/><rect x="56.3" y="56.70" width="244.8" height="2.60" fill="url(#g25)"/><rect x="56.3" y="58.70" width="244.8" height="2.60" fill="url(#g26)"/><rect x="56.3" y="60.70" width="244.8" height="2.60" fill="url(#g27)"/><rect x="56.3" y="62.70" width="244.8" height="2.60" fill="url(#g28)"/><rect x="56.3" y="64.70" width="244.8" height="2.60" fill="url(#g29)"/><rect x="56.3" y="66.70" width="244.8" height="2.60" fill="url(#g30)"/><rect x="56.3" y="68.70" width="244.8" height="2.60" fill="url(#g31)"/><rect x="56.3" y="70.70" width="244.8" height="2.60" fill="url(#g32)"/><rect x="56.3" y="72.70" width="244.8" height="2.60" fill="url(#g33)"/><rect x="56.3" y="74.70" width="244.8" height="2.60" fill="url(#g34)"/><rect x="56.3" y="76.70" width="244.8" height="2.60" fill="url(#g35)"/><rect x="56.3" y="78.70" width="244.8" height="2.60" fill="url(#g36)"/><rect x="56.3" y="80.70" width="244.8" height="2.60" fill="url(#g37)"/><rect x="56.3" y="82.70" width="244.8" height="2.60" fill="url(#g38)"/><rect x="56.3" y="84.70" width="244.8" height="2.60" fill="url(#g39)"/><rect x="56.3" y="86.70" width="244.8" height="2.60" fill="url(#g40)"/><rect x="56.3" y="88.70" width="244.8" height="2.60" fill="url(#g41)"/><rect x="56.3" y="90.70" width="244.8" height="2.60" fill="url(#g42)"/><rect x="56.3" y="92.70" width="244.8" height="2.60" fill="url(#g43)"/><rect x="56.3" y="94.70" width="244.8" height="2.60" fill="url(#g44)"/><rect x="56.3" y="96.70" width="244.8" height="2.60" fill="url(#g45)"/><rect x="56.3" y="98.70" width="244.8" height="2.60" fill="url(#g46)"/><rect x="56.3" y="100.70" width="244.8" height="2.60" fill="url(#g47)"/><rect x="56.3" y="102.70" width="244.8" height="2.60" fill="url(#g48)"/><rect x="56.3" y="104.70" width="244.8" height="2.60" fill="url(#g49)"/><rect x="56.3" y="106.70" width="244.8" height="2.60" fill="url(#g50)"/><rect x="56.3" y="108.70" width="244.8" height="2.60" fill="url(#g51)"/><rect x="56.3" y="110.70" width="244.8" height="2.60" fill="url(#g52)"/><rect x="56.3" y="112.70" width="244.8" height="2.60" fill="url(#g53)"/><rect x="56.3" y="114.70" width="244.8" height="2.60" fill="url(#g54)"/><rect x="56.3" y="116.70" width="244.8" height="2.60" fill="url(#g55)"/><rect x="56.3" y="118.70" width="244.8" height="2.60" fill="url(#g56)"/><rect x="56.3" y="120.70" width="244.8" height="2.60" fill="url(#g57)"/><rect x="56.3" y="122.70" width="244.8" height="2.60" fill="url(#g58)"/><rect x="56.3" y="124.70" width="244.8" height="2.60" fill="url(#g59)"/><rect x="56.3" y="126.70" width="244.8" height="2.60" fill="url(#g60)"/><rect x="56.3" y="128.70" width="244.8" height="2.60" fill="url(#g61)"/><rect x="56.3" y="130.70" width="244.8" height="2.60" fill="url(#g62)"/><rect x="56.3" y="132.70" width="244.8" height="2.60" fill="url(#g63)"/><rect x="56.3" y="134.70" width="244.8" height="2.60" fill="url(#g64)"/><rect x="56.3" y="136.70" width="244.8" height="2.60" fill="url(#g65)"/><rect x="56.3" y="138.70" width="244.8" height="2.60" fill="url(#g66)"/><rect x="56.3" y="140.70" width="244.8" height="2.60" fill="url(#g67)"/><rect x="56.3" y="142.70" width="244.8" height="2.60" fill="url(#g68)"/><rect x="56.3" y="144.70" width="244.8" height="2.60" fill="url(#g69)"/><rect x="56.3" y="146.70" width="244.8" height="2.60" fill="url(#g70)"/><rect x="56.3" y="148.70" width="244.8" height="2.60" fill="url(#g71)"/><rect x="56.3" y="150.70" width="244.8" height="2.60" fill="url(#g72)"/><rect x="56.3" y="152.70" width="244.8" height="2.60" fill="url(#g73)"/><rect x="56.3" y="154.70" width="244.8" height="2.60" fill="url(#g74)"/><rect x="56.3" y="156.70" width="244.8" height="2.60" fill="url(#g75)"/><rect x="56.3" y="158.70" width="244.8" height="2.60" fill="url(#g76)"/><rect x="56.3" y="160.70" width="244.8" height="2.60" fill="url(#g77)"/><rect x="56.3" y="162.70" width="244.8" height="2.60" fill="url(#g78)"/><rect x="56.3" y="164.70" width="244.8" height="2.60" fill="url(#g79)"/><rect x="56.3" y="166.70" width="244.8" height="2.60" fill="url(#g80)"/><rect x="56.3" y="168.70" width="244.8" height="2.60" fill="url(#g81)"/><rect x="56.3" y="170.70" width="244.8" height="2.60" fill="url(#g82)"/><rect x="56.3" y="172.70" width="244.8" height="2.60" fill="url(#g83)"/><rect x="56.3" y="174.70" width="244.8" height="2.60" fill="url(#g84)"/><rect x="56.3" y="176.70" width="244.8" height="2.60" fill="url(#g85)"/><rect x="56.3" y="178.70" width="244.8" height="2.60" fill="url(#g86)"/><rect x="56.3" y="180.70" width="244.8" height="2.60" fill="url(#g87)"/><rect x="56.3" y="182.70" width="244.8" height="2.60" fill="url(#g88)"/><rect x="56.3" y="184.70" width="244.8" height="2.60" fill="url(#g89)"/><rect x="56.3" y="186.70" width="244.8" height="2.60" fill="url(#g90)"/><rect x="56.3" y="188.70" width="244.8" height="2.60" fill="url(#g91)"/><rect x="56.3" y="190.70" width="244.8" height="2.60" fill="url(#g92)"/><rect x="56.3" y="192.70" width="244.8" height="2.60" fill="url(#g93)"/><rect x="56.3" y="194.70" width="244.8" height="2.60" fill="url(#g94)"/><rect x="56.3" y="196.70" width="244.8" height="1.40" fill="url(#g95)"/></g></g>
<rect x="132.3" y="176" width="9.9" height="21.5" fill="#e8e8f0" opacity="0.35"/><rect x="132.3" y="176" width="9.9" height="21.5" fill="url(#hatchA)" opacity="0.9"/>
<rect x="56.3" y="197.5" width="244.8" height="163" fill="#ecf0fc"/>
<rect x="132.3" y="197.5" width="9.9" height="163" fill="url(#hatch)"/>
<rect x="174.3" y="197.5" width="10" height="163" fill="url(#hatch)"/>
<clipPath id="cpa"><rect x="56.3" y="6.7" width="244.8" height="190.8"/></clipPath>
<polyline clip-path="url(#cpa)" points="56.5,147.8 59.0,147.0 62.3,143.5 67.0,139.0 72.2,134.8 79.5,128.2 86.0,120.9 90.4,113.6 93.5,108.0 96.5,104.0 99.4,101.5 103.0,100.2 106.7,99.4 110.0,100.0" fill="none" stroke="#8700ff" stroke-width="5.8" stroke-linejoin="round" stroke-linecap="square"/>
<polyline points="110.0,100.0 113.4,102.0 119.3,114.3 124.0,121.0 128.0,127.9 130.3,140.9 133.3,159.9 134.5,180.0 135.2,197.5" fill="none" stroke="#8700ff" stroke-width="1.8" stroke-dasharray="4.5,3"/>
<rect x="110.9" y="99.5" width="5" height="5" fill="#8700ff"/>
<rect x="116.8" y="111.8" width="5" height="5" fill="#8700ff"/>
<rect x="125.5" y="125.4" width="5" height="5" fill="#8700ff"/>
<rect x="127.8" y="138.4" width="5" height="5" fill="#8700ff"/>
<rect x="130.8" y="157.4" width="5" height="5" fill="#8700ff"/>
<rect x="99.9" y="103.4" width="5" height="5" fill="#8700ff"/>
<rect x="95.4" y="100.1" width="5" height="5" fill="#8700ff"/>
<rect x="59.2" y="145.2" width="1.3" height="2.2" fill="#fff"/>
<rect x="64.7" y="139.9" width="1.3" height="2.2" fill="#fff"/>
<rect x="70.7" y="134.7" width="1.3" height="2.2" fill="#fff"/>
<rect x="75.7" y="130.3" width="1.3" height="2.2" fill="#fff"/>
<rect x="82.7" y="123.4" width="1.3" height="2.2" fill="#fff"/>
<rect x="87.2" y="117.5" width="1.3" height="2.2" fill="#fff"/>
<rect x="91.2" y="110.4" width="1.3" height="2.2" fill="#fff"/>
<rect x="100.2" y="100.9" width="1.3" height="2.2" fill="#fff"/>
<rect x="102.1" y="104.8" width="1.3" height="2.2" fill="#fff"/>
<rect x="106.7" y="98.2" width="1.3" height="2.2" fill="#fff"/>
<rect x="113.1" y="100.9" width="1.3" height="2.2" fill="#fff"/>
<rect x="119.0" y="113.2" width="1.3" height="2.2" fill="#fff"/>
<rect x="133.0" y="158.8" width="1.3" height="2.2" fill="#fff"/>
<rect x="130.0" y="139.8" width="1.3" height="2.2" fill="#fff"/>
<polyline points="135.5,176.0 137.2,174.6 142.3,172.3 143.5,173.6 147.6,165.5 148.3,169.7 152.7,164.6 155.0,165.5 162.2,170.8 171.3,174.9 176.1,177.3 180.4,179.7 182.8,197.5" fill="none" stroke="#ff18ff" stroke-width="1.8" stroke-dasharray="4.5,3"/>
<rect x="132.5" y="173.0" width="6" height="6" fill="#ff18ff"/>
<rect x="135.1" y="174.9" width="1.3" height="2.2" fill="#ffb0ff"/>
<rect x="134.2" y="171.6" width="6" height="6" fill="#ff18ff"/>
<rect x="136.8" y="173.5" width="1.3" height="2.2" fill="#ffb0ff"/>
<rect x="139.3" y="169.3" width="6" height="6" fill="#ff18ff"/>
<rect x="141.9" y="171.2" width="1.3" height="2.2" fill="#ffb0ff"/>
<rect x="140.5" y="170.6" width="6" height="6" fill="#ff18ff"/>
<rect x="143.1" y="172.5" width="1.3" height="2.2" fill="#ffb0ff"/>
<rect x="144.6" y="162.5" width="6" height="6" fill="#ff18ff"/>
<rect x="147.2" y="164.4" width="1.3" height="2.2" fill="#ffb0ff"/>
<rect x="145.3" y="166.7" width="6" height="6" fill="#ff18ff"/>
<rect x="147.9" y="168.6" width="1.3" height="2.2" fill="#ffb0ff"/>
<rect x="149.7" y="161.6" width="6" height="6" fill="#ff18ff"/>
<rect x="152.3" y="163.5" width="1.3" height="2.2" fill="#ffb0ff"/>
<rect x="152.0" y="162.5" width="6" height="6" fill="#ff18ff"/>
<rect x="154.6" y="164.4" width="1.3" height="2.2" fill="#ffb0ff"/>
<rect x="159.2" y="167.8" width="6" height="6" fill="#ff18ff"/>
<rect x="161.8" y="169.7" width="1.3" height="2.2" fill="#ffb0ff"/>
<rect x="168.3" y="171.9" width="6" height="6" fill="#ff18ff"/>
<rect x="170.9" y="173.8" width="1.3" height="2.2" fill="#ffb0ff"/>
<rect x="173.1" y="174.3" width="6" height="6" fill="#ff18ff"/>
<rect x="175.7" y="176.2" width="1.3" height="2.2" fill="#ffb0ff"/>
<rect x="177.4" y="176.7" width="6" height="6" fill="#ff18ff"/>
<rect x="180.0" y="178.6" width="1.3" height="2.2" fill="#ffb0ff"/>
<path d="M183,197.5 C190,192 200,186 210,178 S 225,140 240,118 S 262,95 275,90 S 295,85 301,84.5" fill="none" stroke="#ff1a1a" stroke-width="1.8" stroke-dasharray="4.5,3"/>
<circle cx="186.6" cy="190.0" r="2.9" fill="#ff1a1a"/><path d="M186.6,187.1 a2.9,2.9 0 0,1 0,5.8z" fill="#fff" opacity="0.85" transform="translate(-0.6,0)"/>
<circle cx="197.0" cy="187.5" r="2.9" fill="#ff1a1a"/><path d="M197.0,184.6 a2.9,2.9 0 0,1 0,5.8z" fill="#fff" opacity="0.85" transform="translate(-0.6,0)"/>
<circle cx="215.1" cy="169.6" r="2.9" fill="#ff1a1a"/><path d="M215.1,166.7 a2.9,2.9 0 0,1 0,5.8z" fill="#fff" opacity="0.85" transform="translate(-0.6,0)"/>
<rect x="219.5" y="149.9" width="5.4" height="5.4" fill="#ff1a1a"/>
<rect x="222.2" y="151.3" width="1.4" height="2.6" fill="#fff"/>
<rect x="245.8" y="102.4" width="5.4" height="5.4" fill="#ff1a1a"/>
<rect x="248.5" y="103.8" width="1.4" height="2.6" fill="#fff"/>
<line x1="253.3" y1="103.2" x2="264.2" y2="103.2" stroke="#ff1a1a" stroke-width="0.8"/>
<circle cx="259" cy="103.2" r="3" fill="#ff1a1a"/><path d="M259,100.2 a3,3 0 0,0 0,6z" fill="#fff"/>
<line x1="253.3" y1="101.3" x2="253.3" y2="105.1" stroke="#ff1a1a" stroke-width="0.7"/><line x1="264.2" y1="101.3" x2="264.2" y2="105.1" stroke="#ff1a1a" stroke-width="0.7"/>
<rect x="268.1" y="89.6" width="5.4" height="5.4" fill="#ff1a1a"/>
<rect x="270.8" y="91.0" width="1.4" height="2.6" fill="#fff"/>
<rect x="297.5" y="82.5" width="3.6" height="5.4" fill="#ff1a1a"/>
<text x="77.2" y="97" font-size="13.5" font-weight="bold" font-style="italic" fill="#8700ff">T</text><text x="84.5" y="100.2" font-size="9" font-weight="bold" fill="#8700ff">N</text>
<text x="157.3" y="157" font-size="13.5" font-weight="bold" font-style="italic" fill="#ff18ff">T</text><text x="164.7" y="160.2" font-size="9" font-weight="bold" fill="#ff18ff">M</text>
<text x="228.2" y="92.6" font-size="13.5" font-weight="bold" font-style="italic" fill="#ff1a1a">T</text><text x="235.6" y="96.7" font-size="9.8" font-weight="bold" fill="#ff1a1a">FL</text>
<text x="64.4" y="178.3" font-size="12.2" font-weight="bold" fill="#000">AFM1</text>
<text x="142.6" y="192.7" font-size="12.2" font-weight="bold" fill="#000">AFM2</text>
<text x="244" y="183.8" font-size="12" font-weight="bold" fill="#000">FL</text>
<polyline points="58.3,315.3 61.5,288.7 67.4,272.3 70.0,255.0 73.6,244.5 76.8,234.8 81.2,220.6 85.5,212.5 90.9,211.0 98.6,216.6 107.0,222.4 119.5,221.0 130.9,221.4 137.0,229.4 141.4,240.6 143.3,249.0 148.3,258.6 152.2,267.3 163.2,280.6 174.6,311.4 179.4,323.3 187.3,330.4 199.6,335.6 212.4,339.1 222.5,342.5 248.2,346.9 270.6,349.4 300.3,352.2" fill="none" stroke="#8700ff" stroke-width="1.6" stroke-dasharray="4,4"/>
<path d="M58.3,311.5 l3.8,3.8 l-3.8,3.8 l-3.8,-3.8z" fill="#8700ff"/>
<path d="M61.5,284.9 l3.8,3.8 l-3.8,3.8 l-3.8,-3.8z" fill="#8700ff"/>
<path d="M67.4,268.5 l3.8,3.8 l-3.8,3.8 l-3.8,-3.8z" fill="#8700ff"/>
<path d="M70.0,251.2 l3.8,3.8 l-3.8,3.8 l-3.8,-3.8z" fill="#8700ff"/>
<path d="M73.6,240.7 l3.8,3.8 l-3.8,3.8 l-3.8,-3.8z" fill="#8700ff"/>
<path d="M76.8,231.0 l3.8,3.8 l-3.8,3.8 l-3.8,-3.8z" fill="#8700ff"/>
<path d="M81.2,216.8 l3.8,3.8 l-3.8,3.8 l-3.8,-3.8z" fill="#8700ff"/>
<path d="M85.5,208.7 l3.8,3.8 l-3.8,3.8 l-3.8,-3.8z" fill="#8700ff"/>
<path d="M90.9,207.2 l3.8,3.8 l-3.8,3.8 l-3.8,-3.8z" fill="#8700ff"/>
<path d="M98.6,212.8 l3.8,3.8 l-3.8,3.8 l-3.8,-3.8z" fill="#8700ff"/>
<path d="M107.0,218.6 l3.8,3.8 l-3.8,3.8 l-3.8,-3.8z" fill="#8700ff"/>
<path d="M119.5,217.2 l3.8,3.8 l-3.8,3.8 l-3.8,-3.8z" fill="#8700ff"/>
<path d="M130.9,217.6 l3.8,3.8 l-3.8,3.8 l-3.8,-3.8z" fill="#8700ff"/>
<path d="M137.0,225.6 l3.8,3.8 l-3.8,3.8 l-3.8,-3.8z" fill="#8700ff"/>
<path d="M141.4,236.8 l3.8,3.8 l-3.8,3.8 l-3.8,-3.8z" fill="#8700ff"/>
<path d="M143.3,245.2 l3.8,3.8 l-3.8,3.8 l-3.8,-3.8z" fill="#8700ff"/>
<path d="M148.3,254.8 l3.8,3.8 l-3.8,3.8 l-3.8,-3.8z" fill="#8700ff"/>
<path d="M152.2,263.5 l3.8,3.8 l-3.8,3.8 l-3.8,-3.8z" fill="#8700ff"/>
<path d="M163.2,276.8 l3.8,3.8 l-3.8,3.8 l-3.8,-3.8z" fill="#8700ff"/>
<path d="M174.6,307.6 l3.8,3.8 l-3.8,3.8 l-3.8,-3.8z" fill="#8700ff"/>
<path d="M179.4,319.5 l3.8,3.8 l-3.8,3.8 l-3.8,-3.8z" fill="#8700ff"/>
<path d="M187.3,326.6 l3.8,3.8 l-3.8,3.8 l-3.8,-3.8z" fill="#8700ff"/>
<path d="M199.6,331.8 l3.8,3.8 l-3.8,3.8 l-3.8,-3.8z" fill="#8700ff"/>
<path d="M212.4,335.3 l3.8,3.8 l-3.8,3.8 l-3.8,-3.8z" fill="#8700ff"/>
<path d="M222.5,338.7 l3.8,3.8 l-3.8,3.8 l-3.8,-3.8z" fill="#8700ff"/>
<path d="M248.2,343.1 l3.8,3.8 l-3.8,3.8 l-3.8,-3.8z" fill="#8700ff"/>
<path d="M270.6,345.6 l3.8,3.8 l-3.8,3.8 l-3.8,-3.8z" fill="#8700ff"/>
<path d="M58.6,211.6 C59.1,211.5 60.0,209.1 61.5,210.9 C63.0,212.7 66.3,216.9 67.7,222.2 C69.1,227.5 68.7,236.2 69.7,242.5 C70.7,248.8 72.4,254.3 73.6,259.7 C74.8,265.1 75.4,268.1 76.7,274.7 C78.0,281.3 80.0,292.4 81.5,299.3 C83.0,306.2 84.4,311.3 85.9,316.2 C87.4,321.1 88.6,325.8 90.7,328.7 C92.8,331.6 96.0,332.4 98.7,333.8 C101.4,335.2 103.2,336.5 106.7,337.0 C110.2,337.5 115.6,338.1 119.6,336.7 C123.6,335.3 127.9,332.8 130.8,328.7 C133.7,324.6 135.3,316.2 136.9,312.0 C138.5,307.8 139.1,304.9 140.2,303.6 C141.2,302.3 141.9,302.6 143.2,304.4 C144.5,306.2 146.2,311.4 147.8,314.6 C149.4,317.8 150.4,320.8 152.9,323.4 C155.4,326.0 159.2,331.0 162.7,330.1 C166.2,329.2 171.2,320.1 174.0,317.8 C176.8,315.5 177.6,314.5 179.8,316.4 C182.0,318.3 183.9,324.9 187.1,329.4 C190.2,333.9 194.5,340.5 198.7,343.6 C202.9,346.8 208.5,347.2 212.4,348.3 C216.3,349.4 216.3,349.7 222.3,350.1 C228.3,350.5 240.1,350.5 248.2,350.6 C256.2,350.7 261.9,350.6 270.6,350.6 C279.3,350.7 295.4,350.8 300.3,350.9" fill="none" stroke="#ff1a1a" stroke-width="1.9" stroke-linejoin="round"/>
<circle cx="58.6" cy="211.6" r="2.9" fill="url(#ball)"/>
<circle cx="61.5" cy="210.9" r="2.9" fill="url(#ball)"/>
<circle cx="67.7" cy="222.2" r="2.9" fill="url(#ball)"/>
<circle cx="69.7" cy="242.5" r="2.9" fill="url(#ball)"/>
<circle cx="73.6" cy="259.7" r="2.9" fill="url(#ball)"/>
<circle cx="76.7" cy="274.7" r="2.9" fill="url(#ball)"/>
<circle cx="81.5" cy="299.3" r="2.9" fill="url(#ball)"/>
<circle cx="85.9" cy="316.2" r="2.9" fill="url(#ball)"/>
<circle cx="90.7" cy="328.7" r="2.9" fill="url(#ball)"/>
<circle cx="98.7" cy="333.8" r="2.9" fill="url(#ball)"/>
<circle cx="106.7" cy="337.0" r="2.9" fill="url(#ball)"/>
<circle cx="119.6" cy="336.7" r="2.9" fill="url(#ball)"/>
<circle cx="130.8" cy="328.7" r="2.9" fill="url(#ball)"/>
<circle cx="136.9" cy="312.0" r="2.9" fill="url(#ball)"/>
<circle cx="140.2" cy="303.6" r="2.9" fill="url(#ball)"/>
<circle cx="143.2" cy="304.4" r="2.9" fill="url(#ball)"/>
<circle cx="147.8" cy="314.6" r="2.9" fill="url(#ball)"/>
<circle cx="152.9" cy="323.4" r="2.9" fill="url(#ball)"/>
<circle cx="162.7" cy="330.1" r="2.9" fill="url(#ball)"/>
<circle cx="174.0" cy="317.8" r="2.9" fill="url(#ball)"/>
<circle cx="179.8" cy="316.4" r="2.9" fill="url(#ball)"/>
<circle cx="187.1" cy="329.4" r="2.9" fill="url(#ball)"/>
<circle cx="198.7" cy="343.6" r="2.9" fill="url(#ball)"/>
<circle cx="212.4" cy="348.3" r="2.9" fill="url(#ball)"/>
<circle cx="222.3" cy="350.1" r="2.9" fill="url(#ball)"/>
<circle cx="248.2" cy="350.6" r="2.9" fill="url(#ball)"/>
<circle cx="270.6" cy="350.6" r="2.9" fill="url(#ball)"/>
<circle cx="300.3" cy="350.9" r="2.6" fill="#fff" stroke="#ff1a1a" stroke-width="1.1"/>
<text x="126" y="350.6" font-size="14.2" font-weight="bold" font-style="italic" fill="#ff1a1a">P</text><text x="136" y="354.2" font-size="9.2" font-weight="bold" fill="#ff1a1a">c1</text>
<text x="169.6" y="350.6" font-size="14.2" font-weight="bold" font-style="italic" fill="#ff1a1a">P</text><text x="179.2" y="354.2" font-size="9.2" font-weight="bold" fill="#ff1a1a">c2</text>
<g stroke="#111" stroke-width="1.3" fill="none">
<rect x="56.3" y="6.7" width="244.8" height="190.8"/>
<line x1="56.3" y1="360.5" x2="301.1" y2="360.5"/>
</g>
<line x1="56.3" y1="197.5" x2="56.3" y2="361" stroke="#8700ff" stroke-width="1.4"/>
<line x1="301.1" y1="197.5" x2="301.1" y2="360.5" stroke="#ff1a1a" stroke-width="1.4"/>
<line x1="56.3" y1="197.5" x2="301.1" y2="197.5" stroke="#111" stroke-width="1.4"/>
<line x1="301.1" y1="197" x2="301.1" y2="203" stroke="#111" stroke-width="1.4"/>
<g stroke="#111" stroke-width="1.3"><line x1="52.8" y1="180.94" x2="56.3" y2="180.94"/><line x1="50.3" y1="161.58" x2="56.3" y2="161.58"/><line x1="52.8" y1="142.22" x2="56.3" y2="142.22"/><line x1="50.3" y1="122.86" x2="56.3" y2="122.86"/><line x1="52.8" y1="103.50" x2="56.3" y2="103.50"/><line x1="50.3" y1="84.14" x2="56.3" y2="84.14"/><line x1="52.8" y1="64.78" x2="56.3" y2="64.78"/><line x1="50.3" y1="45.42" x2="56.3" y2="45.42"/><line x1="52.8" y1="26.06" x2="56.3" y2="26.06"/><line x1="50.3" y1="6.70" x2="56.3" y2="6.70"/><line x1="76.70" y1="194.0" x2="76.70" y2="201.0"/><line x1="97.10" y1="191.5" x2="97.10" y2="203.5"/><line x1="117.50" y1="194.0" x2="117.50" y2="201.0"/><line x1="137.90" y1="191.5" x2="137.90" y2="203.5"/><line x1="158.30" y1="194.0" x2="158.30" y2="201.0"/><line x1="178.70" y1="191.5" x2="178.70" y2="203.5"/><line x1="199.10" y1="194.0" x2="199.10" y2="201.0"/><line x1="219.50" y1="191.5" x2="219.50" y2="203.5"/><line x1="239.90" y1="194.0" x2="239.90" y2="201.0"/><line x1="260.30" y1="191.5" x2="260.30" y2="203.5"/><line x1="280.70" y1="194.0" x2="280.70" y2="201.0"/><line x1="56.30" y1="360.5" x2="56.30" y2="367.0"/><line x1="76.70" y1="360.5" x2="76.70" y2="364.0"/><line x1="97.10" y1="360.5" x2="97.10" y2="367.0"/><line x1="117.50" y1="360.5" x2="117.50" y2="364.0"/><line x1="137.90" y1="360.5" x2="137.90" y2="367.0"/><line x1="158.30" y1="360.5" x2="158.30" y2="364.0"/><line x1="178.70" y1="360.5" x2="178.70" y2="367.0"/><line x1="199.10" y1="360.5" x2="199.10" y2="364.0"/><line x1="219.50" y1="360.5" x2="219.50" y2="367.0"/><line x1="239.90" y1="360.5" x2="239.90" y2="364.0"/><line x1="260.30" y1="360.5" x2="260.30" y2="367.0"/><line x1="280.70" y1="360.5" x2="280.70" y2="364.0"/><line x1="301.10" y1="360.5" x2="301.10" y2="367.0"/></g>
<g stroke="#8700ff" stroke-width="1.3"><line x1="52.8" y1="353.22" x2="56.3" y2="353.22"/><line x1="50.3" y1="330.97" x2="56.3" y2="330.97"/><line x1="52.8" y1="308.73" x2="56.3" y2="308.73"/><line x1="50.3" y1="286.48" x2="56.3" y2="286.48"/><line x1="52.8" y1="264.24" x2="56.3" y2="264.24"/><line x1="50.3" y1="241.99" x2="56.3" y2="241.99"/><line x1="52.8" y1="219.75" x2="56.3" y2="219.75"/><line x1="50.3" y1="197.50" x2="56.3" y2="197.50"/><line x1="52.8" y1="175.25" x2="56.3" y2="175.25"/></g>
<g stroke="#ff1a1a" stroke-width="1.3"><line x1="301.1" y1="350.60" x2="307.1" y2="350.60"/><line x1="301.1" y1="326.95" x2="304.6" y2="326.95"/><line x1="301.1" y1="303.30" x2="307.1" y2="303.30"/><line x1="301.1" y1="279.65" x2="304.6" y2="279.65"/><line x1="301.1" y1="256.00" x2="307.1" y2="256.00"/><line x1="301.1" y1="232.35" x2="304.6" y2="232.35"/><line x1="301.1" y1="208.70" x2="307.1" y2="208.70"/></g>
<text x="46" y="166.1" font-size="14.2" text-anchor="end" fill="#111">4</text>
<text x="46" y="127.4" font-size="14.2" text-anchor="end" fill="#111">8</text>
<text x="46" y="88.6" font-size="14.2" text-anchor="end" fill="#111">12</text>
<text x="46" y="49.9" font-size="14.2" text-anchor="end" fill="#111">16</text>
<text x="46" y="11.2" font-size="14.2" text-anchor="end" fill="#111">20</text>
<text x="46" y="335.4" font-size="14.2" text-anchor="end" fill="#8700ff">6</text>
<text x="46" y="290.9" font-size="14.2" text-anchor="end" fill="#8700ff">9</text>
<text x="46" y="246.4" font-size="14.2" text-anchor="end" fill="#8700ff">12</text>
<text x="46" y="201.9" font-size="14.2" text-anchor="end" fill="#8700ff">15</text>
<text x="311.6" y="355.4" font-size="14.2" fill="#ff1a1a">0</text>
<text x="311.6" y="308.1" font-size="14.2" fill="#ff1a1a">1</text>
<text x="311.6" y="260.8" font-size="14.2" fill="#ff1a1a">2</text>
<text x="311.6" y="213.5" font-size="14.2" fill="#ff1a1a">3</text>
<text x="56.3" y="381.8" font-size="14" text-anchor="middle" fill="#111">0</text>
<text x="97.1" y="381.8" font-size="14" text-anchor="middle" fill="#111">4</text>
<text x="137.9" y="381.8" font-size="14" text-anchor="middle" fill="#111">8</text>
<text x="178.7" y="381.8" font-size="14" text-anchor="middle" fill="#111">12</text>
<text x="219.5" y="381.8" font-size="14" text-anchor="middle" fill="#111">16</text>
<text x="260.3" y="381.8" font-size="14" text-anchor="middle" fill="#111">20</text>
<text x="301.1" y="381.8" font-size="14" text-anchor="middle" fill="#111">24</text>
<text x="178.9" y="406.7" font-size="16.9" text-anchor="middle" fill="#111"><tspan font-style="italic">P</tspan> (GPa)</text>
<text transform="translate(15.8,100.8) rotate(-90)" font-size="17" text-anchor="middle" fill="#111"><tspan font-style="italic">T</tspan> (K)</text>
<text transform="translate(12.8,278.6) rotate(-90)" font-size="16.5" text-anchor="middle" fill="#8700ff"><tspan font-style="italic">R</tspan><tspan font-size="11" dy="3.5">0</tspan><tspan dy="-3.5"> (m&#937;)</tspan></text>
<text transform="translate(354.6,277.6) rotate(-90)" font-size="17.3" text-anchor="middle" fill="#ff1a1a"><tspan font-style="italic">A</tspan> (10<tspan font-size="11" dy="-7">-1</tspan><tspan dy="7"> m&#937;/</tspan><tspan font-style="italic">T</tspan><tspan font-size="11" dy="-7">2</tspan><tspan dy="7">)</tspan></text>
<text x="-0.6" y="18.4" font-size="16.8" fill="#111">(a)</text>
<text x="-0.8" y="208.4" font-size="16.8" fill="#111">(b)</text>
<rect x="309.5" y="7.3" width="5" height="188.8" fill="url(#cbar)" stroke="#2a1818" stroke-width="0.9"/>
<line x1="314.9" y1="10.9" x2="320.8" y2="10.9" stroke="#777" stroke-width="1.2"/>
<text x="324.6" y="14.9" font-size="11" fill="#111">20.4</text>
<line x1="314.9" y1="56.0" x2="320.8" y2="56.0" stroke="#777" stroke-width="1.2"/>
<text x="324.6" y="60.0" font-size="11" fill="#111">16.5</text>
<line x1="314.9" y1="101.7" x2="320.8" y2="101.7" stroke="#777" stroke-width="1.2"/>
<text x="324.6" y="105.7" font-size="11" fill="#111">12.5</text>
<line x1="314.9" y1="147.0" x2="320.8" y2="147.0" stroke="#777" stroke-width="1.2"/>
<text x="324.6" y="151.0" font-size="11" fill="#111">8.6</text>
<line x1="314.9" y1="192.4" x2="320.8" y2="192.4" stroke="#777" stroke-width="1.2"/>
<text x="324.6" y="196.4" font-size="11" fill="#111">4.6</text>
<text transform="translate(359.4,101.5) rotate(-90)" font-size="17" text-anchor="middle" fill="#111"><tspan font-style="italic">R</tspan> (m&#937;)</text>
<clipPath id="cpc"><rect x="451.1" y="4.7" width="227.2" height="87.1"/></clipPath>
<g clip-path="url(#cpc)">
<polyline points="451.0,84.8 452.8,84.7 456.0,84.5 460.0,83.5 466.0,80.5 472.0,76.6 478.0,72.2 484.0,67.7 490.0,64.1 496.0,61.4 502.0,59.0 508.0,56.6 510.0,55.8 512.0,55.0 514.0,54.3 516.0,53.5 518.0,52.8 520.0,52.0 522.0,51.3 524.0,50.7 526.0,50.0 528.0,49.4 530.0,48.8 532.0,48.2 534.0,47.6 536.0,47.0 538.0,46.4 540.0,45.8 542.0,45.2 544.0,44.6 546.0,44.0 548.0,43.5 550.0,42.9 552.0,42.3 554.0,41.8 556.0,41.2 558.0,40.6 560.0,40.1 562.0,39.5 564.0,39.0 566.0,38.5 568.0,37.9 570.0,37.4 572.0,36.8 574.0,36.3 576.0,35.8 578.0,35.3 580.0,34.7 582.0,34.2 584.0,33.7 586.0,33.2 588.0,32.7 590.0,32.1 592.0,31.6 594.0,31.1 596.0,30.6 598.0,30.1 600.0,29.6 602.0,29.1 604.0,28.6 606.0,28.1 608.0,27.6 610.0,27.1 612.0,26.7 614.0,26.2 616.0,25.7 618.0,25.2 620.0,24.7 622.0,24.2 624.0,23.8 626.0,23.3 628.0,22.8 630.0,22.3 632.0,21.9 634.0,21.4 636.0,20.9 638.0,20.5 640.0,20.0 642.0,19.6 644.0,19.1 646.0,18.6 648.0,18.2 650.0,17.7 652.0,17.3 654.0,16.8 656.0,16.4 658.0,15.9 660.0,15.5 662.0,15.0 664.0,14.6 666.0,14.1 668.0,13.7 670.0,13.2 672.0,12.8 674.0,12.4 676.0,11.9 678.0,11.5" fill="none" stroke="#000" stroke-width="3.3" stroke-linejoin="round"/>
<polyline points="484.6,64.5 487.5,63.3 490.3,62.2 493.1,61.2 496.0,60.1 498.8,59.1 501.7,58.1 504.5,57.1 507.3,56.1 510.2,55.1 513.0,54.2 515.9,53.3 518.7,52.3 521.5,51.4 524.4,50.5 527.2,49.7 530.1,48.8 532.9,47.9 535.7,47.1 538.6,46.2 541.4,45.4 544.3,44.5 547.1,43.7 549.9,42.9 552.8,42.1 555.6,41.3 558.5,40.5 561.3,39.7 564.1,39.0 567.0,38.2 569.8,37.4 572.7,36.7 575.5,35.9 578.3,35.2 581.2,34.4 584.0,33.7 586.9,32.9 589.7,32.2 592.5,31.5 595.4,30.8 598.2,30.1 601.1,29.4 603.9,28.6 606.7,27.9 609.6,27.3 612.4,26.6 615.3,25.9 618.1,25.2 620.9,24.5 623.8,23.8 626.6,23.1 629.5,22.5 632.3,21.8 635.1,21.1 638.0,20.5 640.8,19.8 643.7,19.2 646.5,18.5 649.3,17.9 652.2,17.2 655.0,16.6 657.9,15.9 660.7,15.3 663.5,14.7 666.4,14.0 669.2,13.4 672.1,12.8 674.9,12.2 677.7,11.5" fill="none" stroke="#ff1a1a" stroke-width="1.7"/>
</g>
<rect x="451.1" y="4.7" width="227.2" height="87.1" fill="none" stroke="#111" stroke-width="1.3"/>
<text x="440.3" y="25.7" font-size="12" text-anchor="end" fill="#111">15.0</text>
<text x="440.3" y="68.9" font-size="12" text-anchor="end" fill="#111">13.5</text>
<g stroke="#111" stroke-width="1.3"><line x1="444.6" y1="21.80" x2="451.1" y2="21.80"/><line x1="444.6" y1="65.00" x2="451.1" y2="65.00"/><line x1="447.6" y1="43.40" x2="451.1" y2="43.40"/><line x1="447.6" y1="86.60" x2="451.1" y2="86.60"/><line x1="473.82" y1="88.8" x2="473.82" y2="94.8"/><line x1="496.54" y1="85.8" x2="496.54" y2="97.8"/><line x1="519.26" y1="88.8" x2="519.26" y2="94.8"/><line x1="541.98" y1="85.8" x2="541.98" y2="97.8"/><line x1="564.70" y1="88.8" x2="564.70" y2="94.8"/><line x1="587.42" y1="85.8" x2="587.42" y2="97.8"/><line x1="610.14" y1="88.8" x2="610.14" y2="94.8"/><line x1="632.86" y1="85.8" x2="632.86" y2="97.8"/><line x1="655.58" y1="88.8" x2="655.58" y2="94.8"/></g>
<text x="389.3" y="10.2" font-size="14" text-anchor="middle" fill="#111">(c)</text>
<text transform="translate(407.6,47.8) rotate(-90)" font-size="14" text-anchor="middle" fill="#111"><tspan font-style="italic">R</tspan> (m&#937;)</text>
<text x="457.4" y="21.6" font-size="12" fill="#111"><tspan font-style="italic">P</tspan> = 8.0 GPa</text>
<text x="550.6" y="82.5" font-size="12.2" fill="#111"><tspan font-style="italic">R</tspan> = 12.83 + 0.33 <tspan font-style="italic">T</tspan><tspan font-size="8.4" dy="-5">0.68</tspan></text>
<clipPath id="cpd"><rect x="451.1" y="91.8" width="227.2" height="87.4"/></clipPath>
<g clip-path="url(#cpd)">
<polyline points="451.0,165.3 452.7,165.2 458.7,164.6 465.4,161.5 472.2,157.5 478.9,152.8 485.6,148.5 492.3,144.8 499.0,142.1 505.7,139.7 512.4,137.8 519.0,136.3 521.0,135.8 523.0,135.3 525.0,134.8 527.0,134.4 529.0,133.9 531.0,133.4 533.0,132.9 535.0,132.5 537.0,132.1 539.0,131.7 541.0,131.3 543.0,130.9 545.0,130.5 547.0,130.1 549.0,129.7 551.0,129.3 553.0,129.0 555.0,128.6 557.0,128.2 559.0,127.8 561.0,127.4 563.0,127.0 565.0,126.7 567.0,126.3 569.0,125.9 571.0,125.5 573.0,125.1 575.0,124.8 577.0,124.4 579.0,124.0 581.0,123.6 583.0,123.3 585.0,122.9 587.0,122.5 589.0,122.1 591.0,121.8 593.0,121.4 595.0,121.0 597.0,120.7 599.0,120.3 601.0,119.9 603.0,119.6 605.0,119.2 607.0,118.9 609.0,118.5 611.0,118.1 613.0,117.8 615.0,117.4 617.0,117.0 619.0,116.7 621.0,116.3 623.0,116.0 625.0,115.6 627.0,115.3 629.0,114.9 631.0,114.6 633.0,114.2 635.0,113.8 637.0,113.5 639.0,113.1 641.0,112.8 643.0,112.4 645.0,112.1 647.0,111.7 649.0,111.4 651.0,111.0 653.0,110.7 655.0,110.3 657.0,110.0 659.0,109.6 661.0,109.3 663.0,109.0 665.0,108.6 667.0,108.3 669.0,107.9 671.0,107.6 673.0,107.2 675.0,106.9 677.0,106.6" fill="none" stroke="#000" stroke-width="3.3" stroke-linejoin="round"/>
<polyline points="484.6,143.3 487.5,142.6 490.3,142.0 493.1,141.3 496.0,140.7 498.8,140.1 501.7,139.4 504.5,138.8 507.3,138.2 510.2,137.6 513.0,137.0 515.9,136.4 518.7,135.8 521.5,135.2 524.4,134.7 527.2,134.1 530.1,133.5 532.9,132.9 535.7,132.4 538.6,131.8 541.4,131.2 544.3,130.7 547.1,130.1 549.9,129.6 552.8,129.0 555.6,128.5 558.5,127.9 561.3,127.4 564.1,126.8 567.0,126.3 569.8,125.7 572.7,125.2 575.5,124.7 578.3,124.1 581.2,123.6 584.0,123.1 586.9,122.5 589.7,122.0 592.5,121.5 595.4,121.0 598.2,120.5 601.1,119.9 603.9,119.4 606.7,118.9 609.6,118.4 612.4,117.9 615.3,117.4 618.1,116.9 620.9,116.3 623.8,115.8 626.6,115.3 629.5,114.8 632.3,114.3 635.1,113.8 638.0,113.3 640.8,112.8 643.7,112.3 646.5,111.8 649.3,111.3 652.2,110.8 655.0,110.3 657.9,109.8 660.7,109.4 663.5,108.9 666.4,108.4 669.2,107.9 672.1,107.4 674.9,106.9 677.7,106.4" fill="none" stroke="#ff1a1a" stroke-width="1.7"/>
</g>
<rect x="451.1" y="91.8" width="227.2" height="87.4" fill="none" stroke="#111" stroke-width="1.3"/>
<text x="440.3" y="106.4" font-size="12" text-anchor="end" fill="#111">15.0</text>
<text x="440.3" y="139.3" font-size="12" text-anchor="end" fill="#111">13.5</text>
<text x="440.3" y="172.2" font-size="12" text-anchor="end" fill="#111">12.0</text>
<g stroke="#111" stroke-width="1.3"><line x1="444.6" y1="102.50" x2="451.1" y2="102.50"/><line x1="444.6" y1="135.39" x2="451.1" y2="135.39"/><line x1="444.6" y1="168.29" x2="451.1" y2="168.29"/><line x1="447.6" y1="118.95" x2="451.1" y2="118.95"/><line x1="447.6" y1="151.84" x2="451.1" y2="151.84"/><line x1="473.82" y1="176.2" x2="473.82" y2="182.2"/><line x1="496.54" y1="173.2" x2="496.54" y2="185.2"/><line x1="519.26" y1="176.2" x2="519.26" y2="182.2"/><line x1="541.98" y1="173.2" x2="541.98" y2="185.2"/><line x1="564.70" y1="176.2" x2="564.70" y2="182.2"/><line x1="587.42" y1="173.2" x2="587.42" y2="185.2"/><line x1="610.14" y1="176.2" x2="610.14" y2="182.2"/><line x1="632.86" y1="173.2" x2="632.86" y2="185.2"/><line x1="655.58" y1="176.2" x2="655.58" y2="182.2"/></g>
<text x="389.3" y="102.5" font-size="14" text-anchor="middle" fill="#111">(d)</text>
<text transform="translate(407.6,135.0) rotate(-90)" font-size="14" text-anchor="middle" fill="#111"><tspan font-style="italic">R</tspan> (m&#937;)</text>
<text x="456.9" y="109.3" font-size="12" fill="#111"><tspan font-style="italic">P</tspan> = 8.3 GPa</text>
<text x="550.6" y="170.4" font-size="12.2" fill="#111"><tspan font-style="italic">R</tspan> = 12.72 + 0.17 <tspan font-style="italic">T</tspan><tspan font-size="8.4" dy="-5">0.84</tspan></text>
<clipPath id="cpe"><rect x="451.1" y="179.2" width="227.2" height="86.7"/></clipPath>
<g clip-path="url(#cpe)">
<polyline points="451.0,259.6 453.0,258.4 455.0,257.4 457.0,256.6 459.0,255.7 461.0,254.9 463.0,254.2 465.0,253.4 467.0,252.7 469.0,252.0 471.0,251.2 473.0,250.5 475.0,249.8 477.0,249.1 479.0,248.4 481.0,247.7 483.0,247.0 485.0,246.4 487.0,245.7 489.0,245.0 491.0,244.3 493.0,243.7 495.0,243.0 497.0,242.3 499.0,241.7 501.0,241.0 503.0,240.3 505.0,239.7 507.0,239.0 509.0,238.4 511.0,237.8 513.0,237.1 515.0,236.5 517.0,235.8 519.0,235.2 521.0,234.6 523.0,233.9 525.0,233.3 527.0,232.7 529.0,232.1 531.0,231.5 533.0,230.8 535.0,230.2 537.0,229.6 539.0,229.0 541.0,228.4 543.0,227.8 545.0,227.2 547.0,226.6 549.0,226.0 551.0,225.4 553.0,224.8 555.0,224.2 557.0,223.6 559.0,223.0 561.0,222.4 563.0,221.8 565.0,221.2 567.0,220.7 569.0,220.1 571.0,219.5 573.0,218.9 575.0,218.3 577.0,217.8 579.0,217.2 581.0,216.6 583.0,216.1 585.0,215.5 587.0,214.9 589.0,214.4 591.0,213.8 593.0,213.2 595.0,212.7 597.0,212.1 599.0,211.5 601.0,211.0 603.0,210.4 605.0,209.9 607.0,209.3 609.0,208.8 611.0,208.2 613.0,207.7 615.0,207.1 617.0,206.6 619.0,206.0 621.0,205.5 623.0,204.9 625.0,204.4 627.0,203.8 629.0,203.3 631.0,202.7 633.0,202.2 635.0,201.7 637.0,201.1 639.0,200.6 641.0,200.1 643.0,199.5 645.0,199.0 647.0,198.5 649.0,197.9 651.0,197.4 653.0,196.9 655.0,196.3 657.0,195.8 659.0,195.3 661.0,194.8 663.0,194.2 665.0,193.7 667.0,193.2 669.0,192.7 671.0,192.1 673.0,191.6 675.0,191.1 677.0,190.6" fill="none" stroke="#000" stroke-width="3.3" stroke-linejoin="round"/>
<polyline points="451.1,262.0 453.9,260.1 456.8,258.6 459.6,257.2 462.5,255.9 465.3,254.7 468.1,253.5 471.0,252.4 473.8,251.2 476.7,250.1 479.5,249.1 482.3,248.0 485.2,247.0 488.0,246.0 490.9,245.0 493.7,244.0 496.5,243.0 499.4,242.0 502.2,241.0 505.1,240.1 507.9,239.1 510.7,238.2 513.6,237.3 516.4,236.3 519.3,235.4 522.1,234.5 524.9,233.6 527.8,232.7 530.6,231.8 533.5,231.0 536.3,230.1 539.1,229.2 542.0,228.3 544.8,227.5 547.7,226.6 550.5,225.8 553.3,224.9 556.2,224.1 559.0,223.2 561.9,222.4 564.7,221.6 567.5,220.7 570.4,219.9 573.2,219.1 576.1,218.3 578.9,217.4 581.7,216.6 584.6,215.8 587.4,215.0 590.3,214.2 593.1,213.4 595.9,212.6 598.8,211.8 601.6,211.0 604.5,210.2 607.3,209.4 610.1,208.6 613.0,207.9 615.8,207.1 618.7,206.3 621.5,205.5 624.3,204.8 627.2,204.0 630.0,203.2 632.9,202.4 635.7,201.7 638.5,200.9 641.4,200.2 644.2,199.4 647.1,198.6 649.9,197.9 652.7,197.1 655.6,196.4 658.4,195.6 661.3,194.9 664.1,194.1 666.9,193.4 669.8,192.7 672.6,191.9 675.5,191.2 678.3,190.4" fill="none" stroke="#ff1a1a" stroke-width="2.0"/>
</g>
<rect x="451.1" y="179.2" width="227.2" height="86.7" fill="none" stroke="#111" stroke-width="1.3"/>
<text x="440.3" y="201.9" font-size="12" text-anchor="end" fill="#111">8.4</text>
<text x="440.3" y="247.5" font-size="12" text-anchor="end" fill="#111">7.0</text>
<g stroke="#111" stroke-width="1.3"><line x1="444.6" y1="198.00" x2="451.1" y2="198.00"/><line x1="444.6" y1="243.60" x2="451.1" y2="243.60"/><line x1="447.6" y1="220.80" x2="451.1" y2="220.80"/><line x1="447.6" y1="266.40" x2="451.1" y2="266.40"/><line x1="473.82" y1="262.9" x2="473.82" y2="268.9"/><line x1="496.54" y1="259.9" x2="496.54" y2="271.9"/><line x1="519.26" y1="262.9" x2="519.26" y2="268.9"/><line x1="541.98" y1="259.9" x2="541.98" y2="271.9"/><line x1="564.70" y1="262.9" x2="564.70" y2="268.9"/><line x1="587.42" y1="259.9" x2="587.42" y2="271.9"/><line x1="610.14" y1="262.9" x2="610.14" y2="268.9"/><line x1="632.86" y1="259.9" x2="632.86" y2="271.9"/><line x1="655.58" y1="262.9" x2="655.58" y2="268.9"/></g>
<text x="389.3" y="186.4" font-size="14" text-anchor="middle" fill="#111">(e)</text>
<text transform="translate(407.6,222.0) rotate(-90)" font-size="14" text-anchor="middle" fill="#111"><tspan font-style="italic">R</tspan> (m&#937;)</text>
<text x="453.9" y="197.5" font-size="12" fill="#111"><tspan font-style="italic">P</tspan> = 12.1 GPa</text>
<text x="550.6" y="256.1" font-size="12.2" fill="#111"><tspan font-style="italic">R</tspan> = 6.43 + 0.18 <tspan font-style="italic">T</tspan><tspan font-size="8.4" dy="-5">0.83</tspan></text>
<clipPath id="cpf"><rect x="451.1" y="265.9" width="227.2" height="86.7"/></clipPath>
<g clip-path="url(#cpf)">
<polyline points="451.0,340.9 453.0,340.2 455.0,339.6 457.0,339.0 459.0,338.4 461.0,337.8 463.0,337.2 465.0,336.6 467.0,336.0 469.0,335.4 471.0,334.8 473.0,334.2 475.0,333.6 477.0,333.0 479.0,332.4 481.0,331.8 483.0,331.2 485.0,330.6 487.0,330.0 489.0,329.4 491.0,328.8 493.0,328.2 495.0,327.6 497.0,327.0 499.0,326.4 501.0,325.9 503.0,325.3 505.0,324.7 507.0,324.1 509.0,323.5 511.0,322.9 513.0,322.3 515.0,321.7 517.0,321.1 519.0,320.5 521.0,319.9 523.0,319.3 525.0,318.8 527.0,318.2 529.0,317.6 531.0,317.0 533.0,316.4 535.0,315.8 537.0,315.2 539.0,314.6 541.0,314.0 543.0,313.5 545.0,312.9 547.0,312.3 549.0,311.7 551.0,311.1 553.0,310.5 555.0,309.9 557.0,309.4 559.0,308.8 561.0,308.2 563.0,307.6 565.0,307.0 567.0,306.4 569.0,305.9 571.0,305.3 573.0,304.7 575.0,304.1 577.0,303.5 579.0,302.9 581.0,302.4 583.0,301.8 585.0,301.2 587.0,300.6 589.0,300.0 591.0,299.5 593.0,298.9 595.0,298.3 597.0,297.7 599.0,297.2 601.0,296.6 603.0,296.0 605.0,295.4 607.0,294.9 609.0,294.3 611.0,293.7 613.0,293.1 615.0,292.6 617.0,292.0 619.0,291.4 621.0,290.8 623.0,290.3 625.0,289.7 627.0,289.1 629.0,288.5 631.0,288.0 633.0,287.4 635.0,286.8 637.0,286.3 639.0,285.7 641.0,285.1 643.0,284.6 645.0,284.0 647.0,283.4 649.0,282.8 651.0,282.3 653.0,281.7 655.0,281.1 657.0,280.6 659.0,280.0 661.0,279.4 663.0,278.9 665.0,278.3 667.0,277.7 669.0,277.2 671.0,276.6 673.0,276.0 675.0,275.5 677.0,274.9" fill="none" stroke="#000" stroke-width="3.3" stroke-linejoin="round"/>
<polyline points="451.1,342.6 453.9,341.5 456.8,340.5 459.6,339.6 462.5,338.6 465.3,337.7 468.1,336.7 471.0,335.8 473.8,334.9 476.7,334.0 479.5,333.1 482.3,332.2 485.2,331.3 488.0,330.4 490.9,329.5 493.7,328.7 496.5,327.8 499.4,326.9 502.2,326.0 505.1,325.2 507.9,324.3 510.7,323.4 513.6,322.6 516.4,321.7 519.3,320.9 522.1,320.0 524.9,319.1 527.8,318.3 530.6,317.4 533.5,316.6 536.3,315.7 539.1,314.9 542.0,314.1 544.8,313.2 547.7,312.4 550.5,311.5 553.3,310.7 556.2,309.9 559.0,309.0 561.9,308.2 564.7,307.4 567.5,306.5 570.4,305.7 573.2,304.9 576.1,304.0 578.9,303.2 581.7,302.4 584.6,301.6 587.4,300.7 590.3,299.9 593.1,299.1 595.9,298.3 598.8,297.4 601.6,296.6 604.5,295.8 607.3,295.0 610.1,294.2 613.0,293.3 615.8,292.5 618.7,291.7 621.5,290.9 624.3,290.1 627.2,289.3 630.0,288.5 632.9,287.7 635.7,286.8 638.5,286.0 641.4,285.2 644.2,284.4 647.1,283.6 649.9,282.8 652.7,282.0 655.6,281.2 658.4,280.4 661.3,279.6 664.1,278.8 666.9,278.0 669.8,277.2 672.6,276.4 675.5,275.6 678.3,274.8" fill="none" stroke="#ff1a1a" stroke-width="2.0"/>
</g>
<rect x="451.1" y="265.9" width="227.2" height="86.7" fill="none" stroke="#111" stroke-width="1.3"/>
<text x="440.3" y="291.3" font-size="12" text-anchor="end" fill="#111">7.5</text>
<text x="440.3" y="346.1" font-size="12" text-anchor="end" fill="#111">6.0</text>
<g stroke="#111" stroke-width="1.3"><line x1="444.6" y1="287.40" x2="451.1" y2="287.40"/><line x1="444.6" y1="342.19" x2="451.1" y2="342.19"/><line x1="447.6" y1="314.80" x2="451.1" y2="314.80"/><line x1="473.82" y1="349.6" x2="473.82" y2="355.6"/><line x1="496.54" y1="346.6" x2="496.54" y2="358.6"/><line x1="519.26" y1="349.6" x2="519.26" y2="355.6"/><line x1="541.98" y1="346.6" x2="541.98" y2="358.6"/><line x1="564.70" y1="349.6" x2="564.70" y2="355.6"/><line x1="587.42" y1="346.6" x2="587.42" y2="358.6"/><line x1="610.14" y1="349.6" x2="610.14" y2="355.6"/><line x1="632.86" y1="346.6" x2="632.86" y2="358.6"/><line x1="655.58" y1="349.6" x2="655.58" y2="355.6"/></g>
<text x="389.3" y="270.0" font-size="14" text-anchor="middle" fill="#111">(f)</text>
<text transform="translate(407.6,308.8) rotate(-90)" font-size="14" text-anchor="middle" fill="#111"><tspan font-style="italic">R</tspan> (m&#937;)</text>
<text x="454.6" y="284.6" font-size="12" fill="#111"><tspan font-style="italic">P</tspan> = 12.8 GPa</text>
<text x="550.6" y="344.1" font-size="12.2" fill="#111"><tspan font-style="italic">R</tspan> = 5.98 + 0.11 <tspan font-style="italic">T</tspan><tspan font-size="8.4" dy="-5">0.96</tspan></text>
<g stroke="#111" stroke-width="1.3"><line x1="451.1" y1="352.6" x2="451.1" y2="358.6"/><line x1="678.3" y1="352.6" x2="678.3" y2="358.6"/></g>
<text x="451.1" y="372.8" font-size="12" text-anchor="middle" fill="#111">0</text>
<text x="496.5" y="372.8" font-size="12" text-anchor="middle" fill="#111">4</text>
<text x="542.0" y="372.8" font-size="12" text-anchor="middle" fill="#111">8</text>
<text x="587.4" y="372.8" font-size="12" text-anchor="middle" fill="#111">12</text>
<text x="632.9" y="372.8" font-size="12" text-anchor="middle" fill="#111">16</text>
<text x="678.3" y="372.8" font-size="12" text-anchor="middle" fill="#111">20</text>
<text x="565" y="395.1" font-size="13.5" text-anchor="middle" fill="#111"><tspan font-style="italic">T</tspan> (K)</text>
</svg></body></html>
